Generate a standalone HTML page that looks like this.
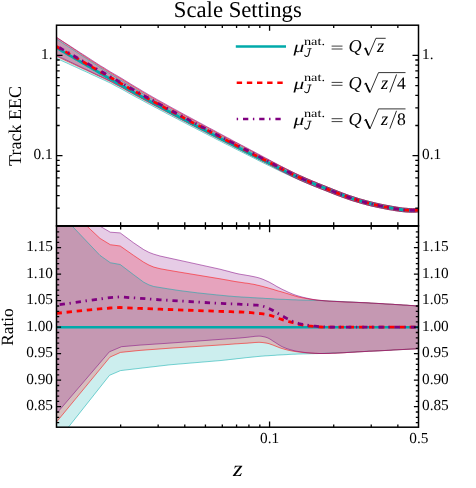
<!DOCTYPE html>
<html><head><meta charset="utf-8"><title>Scale Settings</title>
<style>html,body{margin:0;padding:0;background:#fff;}svg{display:block;font-family:"Liberation Serif",serif;will-change:transform;text-rendering:geometricPrecision;}text{fill:#000;}</style></head><body>
<svg width="476" height="488" viewBox="0 0 476 488">
<rect width="476" height="488" fill="#fff"/>
<defs>
<clipPath id="cu"><rect x="56.5" y="25.2" width="362.0" height="200.7"/></clipPath>
<clipPath id="cl"><rect x="56.5" y="225.9" width="362.0" height="201.3"/></clipPath>
</defs>
<g clip-path="url(#cu)">
<path d="M56.5 39.0 L58.5 40.3 L60.5 41.6 L62.5 43.0 L64.5 44.3 L66.6 45.6 L68.6 46.9 L70.6 48.2 L72.6 49.5 L74.6 50.8 L76.6 52.2 L78.6 53.5 L80.6 54.8 L82.6 56.1 L84.7 57.4 L86.7 58.7 L88.7 60.1 L90.7 61.4 L92.7 62.7 L94.7 64.0 L96.7 65.3 L98.7 66.6 L100.7 67.9 L102.8 69.2 L104.8 70.5 L106.8 71.7 L108.8 73.0 L110.8 74.2 L112.8 75.4 L114.8 76.6 L116.8 77.8 L118.8 79.0 L120.9 80.2 L122.9 81.4 L124.9 82.7 L126.9 83.9 L128.9 85.1 L130.9 86.4 L132.9 87.6 L134.9 88.9 L136.9 90.1 L139.0 91.3 L141.0 92.5 L143.0 93.8 L145.0 94.9 L147.0 96.1 L149.0 97.3 L151.0 98.4 L153.0 99.6 L155.0 100.7 L157.1 101.8 L159.1 102.9 L161.1 104.0 L163.1 105.2 L165.1 106.3 L167.1 107.4 L169.1 108.5 L171.1 109.6 L173.1 110.7 L175.2 111.8 L177.2 112.9 L179.2 114.0 L181.2 115.0 L183.2 116.1 L185.2 117.2 L187.2 118.3 L189.2 119.4 L191.2 120.4 L193.3 121.5 L195.3 122.6 L197.3 123.6 L199.3 124.7 L201.3 125.8 L203.3 126.8 L205.3 127.9 L207.3 129.0 L209.3 130.0 L211.4 131.1 L213.4 132.1 L215.4 133.2 L217.4 134.3 L219.4 135.3 L221.4 136.4 L223.4 137.4 L225.4 138.5 L227.4 139.5 L229.5 140.6 L231.5 141.6 L233.5 142.7 L235.5 143.7 L237.5 144.8 L239.5 145.8 L241.5 146.9 L243.5 147.9 L245.5 149.0 L247.6 150.0 L249.6 151.1 L251.6 152.1 L253.6 153.1 L255.6 154.2 L257.6 155.2 L259.6 156.3 L261.6 157.3 L263.6 158.3 L265.7 159.3 L267.7 160.4 L269.7 161.4 L271.7 162.4 L273.7 163.3 L275.7 164.3 L277.7 165.3 L279.7 166.3 L281.7 167.3 L283.8 168.3 L285.8 169.2 L287.8 170.2 L289.8 171.2 L291.8 172.1 L293.8 173.0 L295.8 174.0 L297.8 174.9 L299.8 175.8 L301.9 176.6 L303.9 177.5 L305.9 178.3 L307.9 179.2 L309.9 180.0 L311.9 180.9 L313.9 181.7 L315.9 182.5 L317.9 183.3 L320.0 184.1 L322.0 184.9 L324.0 185.7 L326.0 186.5 L328.0 187.3 L330.0 188.1 L332.0 188.9 L334.0 189.7 L336.0 190.5 L338.1 191.3 L340.1 192.1 L342.1 192.9 L344.1 193.6 L346.1 194.3 L348.1 195.1 L350.1 195.8 L352.1 196.4 L354.1 197.1 L356.2 197.7 L358.2 198.4 L360.2 199.0 L362.2 199.5 L364.2 200.1 L366.2 200.7 L368.2 201.2 L370.2 201.7 L372.2 202.2 L374.3 202.7 L376.3 203.2 L378.3 203.6 L380.3 204.1 L382.3 204.5 L384.3 204.9 L386.3 205.3 L388.3 205.6 L390.3 206.0 L392.4 206.4 L394.4 206.7 L396.4 207.1 L398.4 207.4 L400.4 207.7 L402.4 208.0 L404.4 208.2 L406.4 208.3 L408.4 208.5 L410.5 208.6 L412.5 208.7 L414.5 208.6 L416.5 208.5 L418.5 208.4 L418.5 211.9 L416.5 212.1 L414.5 212.2 L412.5 212.2 L410.5 212.2 L408.4 212.1 L406.4 212.0 L404.4 211.8 L402.4 211.6 L400.4 211.4 L398.4 211.1 L396.4 210.8 L394.4 210.5 L392.4 210.1 L390.3 209.8 L388.3 209.5 L386.3 209.1 L384.3 208.7 L382.3 208.3 L380.3 207.9 L378.3 207.5 L376.3 207.1 L374.3 206.6 L372.2 206.2 L370.2 205.7 L368.2 205.2 L366.2 204.7 L364.2 204.1 L362.2 203.6 L360.2 203.0 L358.2 202.4 L356.2 201.8 L354.1 201.2 L352.1 200.5 L350.1 199.9 L348.1 199.2 L346.1 198.5 L344.1 197.8 L342.1 197.1 L340.1 196.3 L338.1 195.6 L336.0 194.8 L334.0 194.0 L332.0 193.2 L330.0 192.4 L328.0 191.6 L326.0 190.8 L324.0 190.0 L322.0 189.2 L320.0 188.5 L317.9 187.7 L315.9 186.9 L313.9 186.1 L311.9 185.2 L309.9 184.4 L307.9 183.6 L305.9 182.8 L303.9 181.9 L301.9 181.1 L299.8 180.2 L297.8 179.3 L295.8 178.4 L293.8 177.5 L291.8 176.6 L289.8 175.7 L287.8 174.7 L285.8 173.8 L283.8 172.8 L281.7 171.9 L279.7 170.9 L277.7 169.9 L275.7 169.0 L273.7 168.0 L271.7 167.0 L269.7 166.0 L267.7 165.1 L265.7 164.1 L263.6 163.1 L261.6 162.1 L259.6 161.1 L257.6 160.1 L255.6 159.0 L253.6 158.0 L251.6 157.0 L249.6 156.0 L247.6 155.0 L245.5 153.9 L243.5 152.9 L241.5 151.9 L239.5 150.9 L237.5 149.9 L235.5 148.9 L233.5 147.9 L231.5 146.8 L229.5 145.8 L227.4 144.8 L225.4 143.8 L223.4 142.8 L221.4 141.7 L219.4 140.7 L217.4 139.7 L215.4 138.7 L213.4 137.6 L211.4 136.6 L209.3 135.6 L207.3 134.5 L205.3 133.5 L203.3 132.5 L201.3 131.4 L199.3 130.4 L197.3 129.4 L195.3 128.3 L193.3 127.3 L191.2 126.3 L189.2 125.2 L187.2 124.2 L185.2 123.1 L183.2 122.1 L181.2 121.1 L179.2 120.0 L177.2 118.9 L175.2 117.9 L173.1 116.8 L171.1 115.8 L169.1 114.7 L167.1 113.7 L165.1 112.6 L163.1 111.5 L161.1 110.5 L159.1 109.4 L157.1 108.3 L155.0 107.3 L153.0 106.2 L151.0 105.1 L149.0 104.1 L147.0 103.0 L145.0 101.9 L143.0 100.8 L141.0 99.7 L139.0 98.6 L136.9 97.6 L134.9 96.5 L132.9 95.4 L130.9 94.3 L128.9 93.2 L126.9 92.0 L124.9 90.9 L122.9 89.8 L120.9 88.7 L118.8 87.6 L116.8 86.6 L114.8 85.5 L112.8 84.4 L110.8 83.3 L108.8 82.3 L106.8 81.4 L104.8 80.4 L102.8 79.5 L100.7 78.6 L98.7 77.7 L96.7 76.7 L94.7 75.8 L92.7 74.9 L90.7 74.0 L88.7 73.0 L86.7 72.1 L84.7 71.2 L82.6 70.3 L80.6 69.4 L78.6 68.4 L76.6 67.5 L74.6 66.6 L72.6 65.7 L70.6 64.8 L68.6 63.8 L66.6 62.9 L64.5 62.0 L62.5 61.1 L60.5 60.2 L58.5 59.3 L56.5 58.4Z" fill="#00aaaa" fill-opacity="0.2"/>
<path d="M56.5 37.4 L58.5 38.8 L60.5 40.1 L62.5 41.5 L64.5 42.8 L66.6 44.2 L68.6 45.5 L70.6 46.9 L72.6 48.2 L74.6 49.6 L76.6 50.9 L78.6 52.3 L80.6 53.6 L82.6 55.0 L84.7 56.3 L86.7 57.7 L88.7 59.0 L90.7 60.3 L92.7 61.6 L94.7 62.8 L96.7 64.1 L98.7 65.4 L100.7 66.7 L102.8 68.0 L104.8 69.2 L106.8 70.5 L108.8 71.7 L110.8 72.9 L112.8 74.1 L114.8 75.3 L116.8 76.5 L118.8 77.6 L120.9 78.8 L122.9 80.0 L124.9 81.3 L126.9 82.5 L128.9 83.7 L130.9 85.0 L132.9 86.2 L134.9 87.4 L136.9 88.6 L139.0 89.9 L141.0 91.1 L143.0 92.3 L145.0 93.5 L147.0 94.6 L149.0 95.8 L151.0 97.0 L153.0 98.1 L155.0 99.3 L157.1 100.4 L159.1 101.5 L161.1 102.6 L163.1 103.7 L165.1 104.9 L167.1 106.0 L169.1 107.1 L171.1 108.2 L173.1 109.3 L175.2 110.4 L177.2 111.5 L179.2 112.6 L181.2 113.6 L183.2 114.7 L185.2 115.8 L187.2 116.9 L189.2 118.0 L191.2 119.1 L193.3 120.1 L195.3 121.2 L197.3 122.3 L199.3 123.4 L201.3 124.4 L203.3 125.5 L205.3 126.6 L207.3 127.6 L209.3 128.7 L211.4 129.8 L213.4 130.9 L215.4 131.9 L217.4 133.0 L219.4 134.1 L221.4 135.1 L223.4 136.2 L225.4 137.3 L227.4 138.3 L229.5 139.4 L231.5 140.5 L233.5 141.5 L235.5 142.6 L237.5 143.6 L239.5 144.7 L241.5 145.8 L243.5 146.8 L245.5 147.9 L247.6 148.9 L249.6 150.0 L251.6 151.1 L253.6 152.1 L255.6 153.2 L257.6 154.3 L259.6 155.3 L261.6 156.4 L263.6 157.4 L265.7 158.5 L267.7 159.5 L269.7 160.6 L271.7 161.6 L273.7 162.6 L275.7 163.7 L277.7 164.7 L279.7 165.7 L281.7 166.7 L283.8 167.7 L285.8 168.8 L287.8 169.8 L289.8 170.7 L291.8 171.7 L293.8 172.7 L295.8 173.7 L297.8 174.6 L299.8 175.5 L301.9 176.4 L303.9 177.3 L305.9 178.2 L307.9 179.1 L309.9 179.9 L311.9 180.8 L313.9 181.6 L315.9 182.4 L317.9 183.3 L320.0 184.1 L322.0 184.9 L324.0 185.7 L326.0 186.5 L328.0 187.3 L330.0 188.1 L332.0 188.9 L334.0 189.7 L336.0 190.5 L338.1 191.3 L340.1 192.1 L342.1 192.9 L344.1 193.6 L346.1 194.4 L348.1 195.1 L350.1 195.8 L352.1 196.4 L354.1 197.1 L356.2 197.7 L358.2 198.4 L360.2 199.0 L362.2 199.6 L364.2 200.1 L366.2 200.7 L368.2 201.2 L370.2 201.7 L372.2 202.2 L374.3 202.7 L376.3 203.2 L378.3 203.6 L380.3 204.1 L382.3 204.5 L384.3 204.9 L386.3 205.3 L388.3 205.6 L390.3 206.0 L392.4 206.4 L394.4 206.7 L396.4 207.1 L398.4 207.4 L400.4 207.7 L402.4 208.0 L404.4 208.2 L406.4 208.3 L408.4 208.5 L410.5 208.6 L412.5 208.7 L414.5 208.6 L416.5 208.5 L418.5 208.4 L418.5 211.9 L416.5 212.1 L414.5 212.2 L412.5 212.2 L410.5 212.2 L408.4 212.1 L406.4 212.0 L404.4 211.8 L402.4 211.6 L400.4 211.4 L398.4 211.1 L396.4 210.8 L394.4 210.5 L392.4 210.1 L390.3 209.8 L388.3 209.5 L386.3 209.1 L384.3 208.7 L382.3 208.3 L380.3 207.9 L378.3 207.5 L376.3 207.1 L374.3 206.6 L372.2 206.2 L370.2 205.7 L368.2 205.2 L366.2 204.7 L364.2 204.1 L362.2 203.6 L360.2 203.0 L358.2 202.4 L356.2 201.8 L354.1 201.2 L352.1 200.6 L350.1 199.9 L348.1 199.2 L346.1 198.5 L344.1 197.8 L342.1 197.1 L340.1 196.3 L338.1 195.6 L336.0 194.8 L334.0 194.0 L332.0 193.2 L330.0 192.4 L328.0 191.6 L326.0 190.8 L324.0 190.0 L322.0 189.2 L320.0 188.5 L317.9 187.6 L315.9 186.8 L313.9 186.0 L311.9 185.2 L309.9 184.4 L307.9 183.5 L305.9 182.7 L303.9 181.8 L301.9 180.9 L299.8 180.0 L297.8 179.1 L295.8 178.2 L293.8 177.3 L291.8 176.3 L289.8 175.3 L287.8 174.3 L285.8 173.3 L283.8 172.3 L281.7 171.3 L279.7 170.3 L277.7 169.2 L275.7 168.2 L273.7 167.1 L271.7 166.1 L269.7 165.0 L267.7 164.0 L265.7 163.0 L263.6 161.9 L261.6 160.9 L259.6 159.9 L257.6 158.8 L255.6 157.8 L253.6 156.8 L251.6 155.8 L249.6 154.8 L247.6 153.7 L245.5 152.7 L243.5 151.7 L241.5 150.6 L239.5 149.6 L237.5 148.6 L235.5 147.6 L233.5 146.6 L231.5 145.5 L229.5 144.5 L227.4 143.5 L225.4 142.5 L223.4 141.4 L221.4 140.4 L219.4 139.4 L217.4 138.3 L215.4 137.3 L213.4 136.3 L211.4 135.2 L209.3 134.2 L207.3 133.2 L205.3 132.1 L203.3 131.1 L201.3 130.1 L199.3 129.0 L197.3 128.0 L195.3 126.9 L193.3 125.9 L191.2 124.9 L189.2 123.8 L187.2 122.8 L185.2 121.7 L183.2 120.7 L181.2 119.6 L179.2 118.6 L177.2 117.5 L175.2 116.5 L173.1 115.4 L171.1 114.3 L169.1 113.3 L167.1 112.2 L165.1 111.1 L163.1 110.1 L161.1 109.0 L159.1 107.9 L157.1 106.9 L155.0 105.8 L153.0 104.7 L151.0 103.6 L149.0 102.5 L147.0 101.5 L145.0 100.4 L143.0 99.3 L141.0 98.2 L139.0 97.1 L136.9 96.0 L134.9 94.9 L132.9 93.8 L130.9 92.7 L128.9 91.6 L126.9 90.5 L124.9 89.3 L122.9 88.2 L120.9 87.1 L118.8 86.0 L116.8 85.0 L114.8 83.9 L112.8 82.8 L110.8 81.7 L108.8 80.7 L106.8 79.8 L104.8 78.8 L102.8 77.9 L100.7 76.9 L98.7 76.0 L96.7 75.1 L94.7 74.1 L92.7 73.2 L90.7 72.2 L88.7 71.3 L86.7 70.3 L84.7 69.4 L82.6 68.5 L80.6 67.5 L78.6 66.6 L76.6 65.7 L74.6 64.7 L72.6 63.8 L70.6 62.8 L68.6 61.9 L66.6 61.0 L64.5 60.0 L62.5 59.1 L60.5 58.2 L58.5 57.2 L56.5 56.3Z" fill="#ff0000" fill-opacity="0.2"/>
<path d="M56.5 37.3 L58.5 38.6 L60.5 39.9 L62.5 41.2 L64.5 42.5 L66.6 43.8 L68.6 45.1 L70.6 46.4 L72.6 47.7 L74.6 49.0 L76.6 50.3 L78.6 51.6 L80.6 52.9 L82.6 54.2 L84.7 55.5 L86.7 56.8 L88.7 58.1 L90.7 59.4 L92.7 60.7 L94.7 62.0 L96.7 63.3 L98.7 64.6 L100.7 65.9 L102.8 67.1 L104.8 68.3 L106.8 69.6 L108.8 70.8 L110.8 72.1 L112.8 73.2 L114.8 74.4 L116.8 75.5 L118.8 76.7 L120.9 77.9 L122.9 79.1 L124.9 80.4 L126.9 81.6 L128.9 82.8 L130.9 84.1 L132.9 85.3 L134.9 86.5 L136.9 87.7 L139.0 88.9 L141.0 90.1 L143.0 91.4 L145.0 92.5 L147.0 93.7 L149.0 94.9 L151.0 96.0 L153.0 97.2 L155.0 98.3 L157.1 99.5 L159.1 100.6 L161.1 101.7 L163.1 102.8 L165.1 103.9 L167.1 105.1 L169.1 106.2 L171.1 107.3 L173.1 108.4 L175.2 109.5 L177.2 110.6 L179.2 111.7 L181.2 112.8 L183.2 113.9 L185.2 115.0 L187.2 116.1 L189.2 117.1 L191.2 118.2 L193.3 119.3 L195.3 120.4 L197.3 121.5 L199.3 122.6 L201.3 123.6 L203.3 124.7 L205.3 125.8 L207.3 126.9 L209.3 128.0 L211.4 129.0 L213.4 130.1 L215.4 131.2 L217.4 132.3 L219.4 133.3 L221.4 134.4 L223.4 135.5 L225.4 136.6 L227.4 137.7 L229.5 138.7 L231.5 139.8 L233.5 140.9 L235.5 142.0 L237.5 143.0 L239.5 144.1 L241.5 145.2 L243.5 146.2 L245.5 147.3 L247.6 148.3 L249.6 149.4 L251.6 150.5 L253.6 151.5 L255.6 152.6 L257.6 153.7 L259.6 154.7 L261.6 155.8 L263.6 156.9 L265.7 158.0 L267.7 159.0 L269.7 160.1 L271.7 161.2 L273.7 162.3 L275.7 163.3 L277.7 164.4 L279.7 165.5 L281.7 166.5 L283.8 167.6 L285.8 168.6 L287.8 169.6 L289.8 170.6 L291.8 171.6 L293.8 172.6 L295.8 173.6 L297.8 174.5 L299.8 175.5 L301.9 176.4 L303.9 177.3 L305.9 178.2 L307.9 179.1 L309.9 179.9 L311.9 180.8 L313.9 181.6 L315.9 182.4 L317.9 183.3 L320.0 184.1 L322.0 184.9 L324.0 185.7 L326.0 186.5 L328.0 187.3 L330.0 188.1 L332.0 188.9 L334.0 189.7 L336.0 190.5 L338.1 191.3 L340.1 192.1 L342.1 192.9 L344.1 193.6 L346.1 194.4 L348.1 195.1 L350.1 195.8 L352.1 196.4 L354.1 197.1 L356.2 197.7 L358.2 198.4 L360.2 199.0 L362.2 199.6 L364.2 200.1 L366.2 200.7 L368.2 201.2 L370.2 201.7 L372.2 202.2 L374.3 202.7 L376.3 203.2 L378.3 203.6 L380.3 204.1 L382.3 204.5 L384.3 204.9 L386.3 205.3 L388.3 205.6 L390.3 206.0 L392.4 206.4 L394.4 206.7 L396.4 207.1 L398.4 207.4 L400.4 207.7 L402.4 208.0 L404.4 208.2 L406.4 208.3 L408.4 208.5 L410.5 208.6 L412.5 208.7 L414.5 208.6 L416.5 208.5 L418.5 208.4 L418.5 211.9 L416.5 212.1 L414.5 212.2 L412.5 212.2 L410.5 212.2 L408.4 212.1 L406.4 212.0 L404.4 211.8 L402.4 211.6 L400.4 211.4 L398.4 211.1 L396.4 210.8 L394.4 210.5 L392.4 210.1 L390.3 209.8 L388.3 209.5 L386.3 209.1 L384.3 208.7 L382.3 208.3 L380.3 207.9 L378.3 207.5 L376.3 207.1 L374.3 206.6 L372.2 206.2 L370.2 205.7 L368.2 205.2 L366.2 204.7 L364.2 204.1 L362.2 203.6 L360.2 203.0 L358.2 202.4 L356.2 201.8 L354.1 201.2 L352.1 200.6 L350.1 199.9 L348.1 199.2 L346.1 198.5 L344.1 197.8 L342.1 197.1 L340.1 196.3 L338.1 195.6 L336.0 194.8 L334.0 194.0 L332.0 193.2 L330.0 192.4 L328.0 191.6 L326.0 190.8 L324.0 190.0 L322.0 189.2 L320.0 188.5 L317.9 187.6 L315.9 186.8 L313.9 186.0 L311.9 185.2 L309.9 184.4 L307.9 183.5 L305.9 182.7 L303.9 181.8 L301.9 180.9 L299.8 180.0 L297.8 179.1 L295.8 178.1 L293.8 177.2 L291.8 176.2 L289.8 175.2 L287.8 174.2 L285.8 173.2 L283.8 172.2 L281.7 171.1 L279.7 170.1 L277.7 169.0 L275.7 167.9 L273.7 166.8 L271.7 165.7 L269.7 164.6 L267.7 163.5 L265.7 162.5 L263.6 161.4 L261.6 160.4 L259.6 159.3 L257.6 158.3 L255.6 157.3 L253.6 156.3 L251.6 155.3 L249.6 154.2 L247.6 153.2 L245.5 152.2 L243.5 151.2 L241.5 150.2 L239.5 149.1 L237.5 148.1 L235.5 147.1 L233.5 146.1 L231.5 145.1 L229.5 144.0 L227.4 143.0 L225.4 142.0 L223.4 141.0 L221.4 139.9 L219.4 138.9 L217.4 137.9 L215.4 136.8 L213.4 135.8 L211.4 134.8 L209.3 133.7 L207.3 132.7 L205.3 131.7 L203.3 130.6 L201.3 129.6 L199.3 128.6 L197.3 127.5 L195.3 126.5 L193.3 125.5 L191.2 124.4 L189.2 123.4 L187.2 122.3 L185.2 121.3 L183.2 120.2 L181.2 119.2 L179.2 118.1 L177.2 117.1 L175.2 116.0 L173.1 115.0 L171.1 113.9 L169.1 112.8 L167.1 111.8 L165.1 110.7 L163.1 109.6 L161.1 108.6 L159.1 107.5 L157.1 106.4 L155.0 105.3 L153.0 104.3 L151.0 103.2 L149.0 102.1 L147.0 101.0 L145.0 99.9 L143.0 98.8 L141.0 97.7 L139.0 96.6 L136.9 95.5 L134.9 94.4 L132.9 93.3 L130.9 92.2 L128.9 91.1 L126.9 90.0 L124.9 88.9 L122.9 87.7 L120.9 86.6 L118.8 85.6 L116.8 84.5 L114.8 83.4 L112.8 82.3 L110.8 81.3 L108.8 80.2 L106.8 79.3 L104.8 78.3 L102.8 77.3 L100.7 76.4 L98.7 75.4 L96.7 74.5 L94.7 73.5 L92.7 72.6 L90.7 71.6 L88.7 70.7 L86.7 69.7 L84.7 68.8 L82.6 67.8 L80.6 66.8 L78.6 65.9 L76.6 64.9 L74.6 64.0 L72.6 63.0 L70.6 62.1 L68.6 61.1 L66.6 60.2 L64.5 59.2 L62.5 58.3 L60.5 57.3 L58.5 56.4 L56.5 55.5Z" fill="#800080" fill-opacity="0.2"/>
<path d="M56.5 39.0 L58.5 40.3 L60.5 41.6 L62.5 43.0 L64.5 44.3 L66.6 45.6 L68.6 46.9 L70.6 48.2 L72.6 49.5 L74.6 50.8 L76.6 52.2 L78.6 53.5 L80.6 54.8 L82.6 56.1 L84.7 57.4 L86.7 58.7 L88.7 60.1 L90.7 61.4 L92.7 62.7 L94.7 64.0 L96.7 65.3 L98.7 66.6 L100.7 67.9 L102.8 69.2 L104.8 70.5 L106.8 71.7 L108.8 73.0 L110.8 74.2 L112.8 75.4 L114.8 76.6 L116.8 77.8 L118.8 79.0 L120.9 80.2 L122.9 81.4 L124.9 82.7 L126.9 83.9 L128.9 85.1 L130.9 86.4 L132.9 87.6 L134.9 88.9 L136.9 90.1 L139.0 91.3 L141.0 92.5 L143.0 93.8 L145.0 94.9 L147.0 96.1 L149.0 97.3 L151.0 98.4 L153.0 99.6 L155.0 100.7 L157.1 101.8 L159.1 102.9 L161.1 104.0 L163.1 105.2 L165.1 106.3 L167.1 107.4 L169.1 108.5 L171.1 109.6 L173.1 110.7 L175.2 111.8 L177.2 112.9 L179.2 114.0 L181.2 115.0 L183.2 116.1 L185.2 117.2 L187.2 118.3 L189.2 119.4 L191.2 120.4 L193.3 121.5 L195.3 122.6 L197.3 123.6 L199.3 124.7 L201.3 125.8 L203.3 126.8 L205.3 127.9 L207.3 129.0 L209.3 130.0 L211.4 131.1 L213.4 132.1 L215.4 133.2 L217.4 134.3 L219.4 135.3 L221.4 136.4 L223.4 137.4 L225.4 138.5 L227.4 139.5 L229.5 140.6 L231.5 141.6 L233.5 142.7 L235.5 143.7 L237.5 144.8 L239.5 145.8 L241.5 146.9 L243.5 147.9 L245.5 149.0 L247.6 150.0 L249.6 151.1 L251.6 152.1 L253.6 153.1 L255.6 154.2 L257.6 155.2 L259.6 156.3 L261.6 157.3 L263.6 158.3 L265.7 159.3 L267.7 160.4 L269.7 161.4 L271.7 162.4 L273.7 163.3 L275.7 164.3 L277.7 165.3 L279.7 166.3 L281.7 167.3 L283.8 168.3 L285.8 169.2 L287.8 170.2 L289.8 171.2 L291.8 172.1 L293.8 173.0 L295.8 174.0 L297.8 174.9 L299.8 175.8 L301.9 176.6 L303.9 177.5 L305.9 178.3 L307.9 179.2 L309.9 180.0 L311.9 180.9 L313.9 181.7 L315.9 182.5 L317.9 183.3 L320.0 184.1 L322.0 184.9 L324.0 185.7 L326.0 186.5 L328.0 187.3 L330.0 188.1 L332.0 188.9 L334.0 189.7 L336.0 190.5 L338.1 191.3 L340.1 192.1 L342.1 192.9 L344.1 193.6 L346.1 194.3 L348.1 195.1 L350.1 195.8 L352.1 196.4 L354.1 197.1 L356.2 197.7 L358.2 198.4 L360.2 199.0 L362.2 199.5 L364.2 200.1 L366.2 200.7 L368.2 201.2 L370.2 201.7 L372.2 202.2 L374.3 202.7 L376.3 203.2 L378.3 203.6 L380.3 204.1 L382.3 204.5 L384.3 204.9 L386.3 205.3 L388.3 205.6 L390.3 206.0 L392.4 206.4 L394.4 206.7 L396.4 207.1 L398.4 207.4 L400.4 207.7 L402.4 208.0 L404.4 208.2 L406.4 208.3 L408.4 208.5 L410.5 208.6 L412.5 208.7 L414.5 208.6 L416.5 208.5 L418.5 208.4" fill="none" stroke="#00aaaa" stroke-width="0.7" stroke-opacity="0.75"/>
<path d="M56.5 58.4 L58.5 59.3 L60.5 60.2 L62.5 61.1 L64.5 62.0 L66.6 62.9 L68.6 63.8 L70.6 64.8 L72.6 65.7 L74.6 66.6 L76.6 67.5 L78.6 68.4 L80.6 69.4 L82.6 70.3 L84.7 71.2 L86.7 72.1 L88.7 73.0 L90.7 74.0 L92.7 74.9 L94.7 75.8 L96.7 76.7 L98.7 77.7 L100.7 78.6 L102.8 79.5 L104.8 80.4 L106.8 81.4 L108.8 82.3 L110.8 83.3 L112.8 84.4 L114.8 85.5 L116.8 86.6 L118.8 87.6 L120.9 88.7 L122.9 89.8 L124.9 90.9 L126.9 92.0 L128.9 93.2 L130.9 94.3 L132.9 95.4 L134.9 96.5 L136.9 97.6 L139.0 98.6 L141.0 99.7 L143.0 100.8 L145.0 101.9 L147.0 103.0 L149.0 104.1 L151.0 105.1 L153.0 106.2 L155.0 107.3 L157.1 108.3 L159.1 109.4 L161.1 110.5 L163.1 111.5 L165.1 112.6 L167.1 113.7 L169.1 114.7 L171.1 115.8 L173.1 116.8 L175.2 117.9 L177.2 118.9 L179.2 120.0 L181.2 121.1 L183.2 122.1 L185.2 123.1 L187.2 124.2 L189.2 125.2 L191.2 126.3 L193.3 127.3 L195.3 128.3 L197.3 129.4 L199.3 130.4 L201.3 131.4 L203.3 132.5 L205.3 133.5 L207.3 134.5 L209.3 135.6 L211.4 136.6 L213.4 137.6 L215.4 138.7 L217.4 139.7 L219.4 140.7 L221.4 141.7 L223.4 142.8 L225.4 143.8 L227.4 144.8 L229.5 145.8 L231.5 146.8 L233.5 147.9 L235.5 148.9 L237.5 149.9 L239.5 150.9 L241.5 151.9 L243.5 152.9 L245.5 153.9 L247.6 155.0 L249.6 156.0 L251.6 157.0 L253.6 158.0 L255.6 159.0 L257.6 160.1 L259.6 161.1 L261.6 162.1 L263.6 163.1 L265.7 164.1 L267.7 165.1 L269.7 166.0 L271.7 167.0 L273.7 168.0 L275.7 169.0 L277.7 169.9 L279.7 170.9 L281.7 171.9 L283.8 172.8 L285.8 173.8 L287.8 174.7 L289.8 175.7 L291.8 176.6 L293.8 177.5 L295.8 178.4 L297.8 179.3 L299.8 180.2 L301.9 181.1 L303.9 181.9 L305.9 182.8 L307.9 183.6 L309.9 184.4 L311.9 185.2 L313.9 186.1 L315.9 186.9 L317.9 187.7 L320.0 188.5 L322.0 189.2 L324.0 190.0 L326.0 190.8 L328.0 191.6 L330.0 192.4 L332.0 193.2 L334.0 194.0 L336.0 194.8 L338.1 195.6 L340.1 196.3 L342.1 197.1 L344.1 197.8 L346.1 198.5 L348.1 199.2 L350.1 199.9 L352.1 200.5 L354.1 201.2 L356.2 201.8 L358.2 202.4 L360.2 203.0 L362.2 203.6 L364.2 204.1 L366.2 204.7 L368.2 205.2 L370.2 205.7 L372.2 206.2 L374.3 206.6 L376.3 207.1 L378.3 207.5 L380.3 207.9 L382.3 208.3 L384.3 208.7 L386.3 209.1 L388.3 209.5 L390.3 209.8 L392.4 210.1 L394.4 210.5 L396.4 210.8 L398.4 211.1 L400.4 211.4 L402.4 211.6 L404.4 211.8 L406.4 212.0 L408.4 212.1 L410.5 212.2 L412.5 212.2 L414.5 212.2 L416.5 212.1 L418.5 211.9" fill="none" stroke="#00aaaa" stroke-width="0.7" stroke-opacity="0.75"/>
<path d="M56.5 37.4 L58.5 38.8 L60.5 40.1 L62.5 41.5 L64.5 42.8 L66.6 44.2 L68.6 45.5 L70.6 46.9 L72.6 48.2 L74.6 49.6 L76.6 50.9 L78.6 52.3 L80.6 53.6 L82.6 55.0 L84.7 56.3 L86.7 57.7 L88.7 59.0 L90.7 60.3 L92.7 61.6 L94.7 62.8 L96.7 64.1 L98.7 65.4 L100.7 66.7 L102.8 68.0 L104.8 69.2 L106.8 70.5 L108.8 71.7 L110.8 72.9 L112.8 74.1 L114.8 75.3 L116.8 76.5 L118.8 77.6 L120.9 78.8 L122.9 80.0 L124.9 81.3 L126.9 82.5 L128.9 83.7 L130.9 85.0 L132.9 86.2 L134.9 87.4 L136.9 88.6 L139.0 89.9 L141.0 91.1 L143.0 92.3 L145.0 93.5 L147.0 94.6 L149.0 95.8 L151.0 97.0 L153.0 98.1 L155.0 99.3 L157.1 100.4 L159.1 101.5 L161.1 102.6 L163.1 103.7 L165.1 104.9 L167.1 106.0 L169.1 107.1 L171.1 108.2 L173.1 109.3 L175.2 110.4 L177.2 111.5 L179.2 112.6 L181.2 113.6 L183.2 114.7 L185.2 115.8 L187.2 116.9 L189.2 118.0 L191.2 119.1 L193.3 120.1 L195.3 121.2 L197.3 122.3 L199.3 123.4 L201.3 124.4 L203.3 125.5 L205.3 126.6 L207.3 127.6 L209.3 128.7 L211.4 129.8 L213.4 130.9 L215.4 131.9 L217.4 133.0 L219.4 134.1 L221.4 135.1 L223.4 136.2 L225.4 137.3 L227.4 138.3 L229.5 139.4 L231.5 140.5 L233.5 141.5 L235.5 142.6 L237.5 143.6 L239.5 144.7 L241.5 145.8 L243.5 146.8 L245.5 147.9 L247.6 148.9 L249.6 150.0 L251.6 151.1 L253.6 152.1 L255.6 153.2 L257.6 154.3 L259.6 155.3 L261.6 156.4 L263.6 157.4 L265.7 158.5 L267.7 159.5 L269.7 160.6 L271.7 161.6 L273.7 162.6 L275.7 163.7 L277.7 164.7 L279.7 165.7 L281.7 166.7 L283.8 167.7 L285.8 168.8 L287.8 169.8 L289.8 170.7 L291.8 171.7 L293.8 172.7 L295.8 173.7 L297.8 174.6 L299.8 175.5 L301.9 176.4 L303.9 177.3 L305.9 178.2 L307.9 179.1 L309.9 179.9 L311.9 180.8 L313.9 181.6 L315.9 182.4 L317.9 183.3 L320.0 184.1 L322.0 184.9 L324.0 185.7 L326.0 186.5 L328.0 187.3 L330.0 188.1 L332.0 188.9 L334.0 189.7 L336.0 190.5 L338.1 191.3 L340.1 192.1 L342.1 192.9 L344.1 193.6 L346.1 194.4 L348.1 195.1 L350.1 195.8 L352.1 196.4 L354.1 197.1 L356.2 197.7 L358.2 198.4 L360.2 199.0 L362.2 199.6 L364.2 200.1 L366.2 200.7 L368.2 201.2 L370.2 201.7 L372.2 202.2 L374.3 202.7 L376.3 203.2 L378.3 203.6 L380.3 204.1 L382.3 204.5 L384.3 204.9 L386.3 205.3 L388.3 205.6 L390.3 206.0 L392.4 206.4 L394.4 206.7 L396.4 207.1 L398.4 207.4 L400.4 207.7 L402.4 208.0 L404.4 208.2 L406.4 208.3 L408.4 208.5 L410.5 208.6 L412.5 208.7 L414.5 208.6 L416.5 208.5 L418.5 208.4" fill="none" stroke="#ff0000" stroke-width="0.7" stroke-opacity="0.75"/>
<path d="M56.5 56.3 L58.5 57.2 L60.5 58.2 L62.5 59.1 L64.5 60.0 L66.6 61.0 L68.6 61.9 L70.6 62.8 L72.6 63.8 L74.6 64.7 L76.6 65.7 L78.6 66.6 L80.6 67.5 L82.6 68.5 L84.7 69.4 L86.7 70.3 L88.7 71.3 L90.7 72.2 L92.7 73.2 L94.7 74.1 L96.7 75.1 L98.7 76.0 L100.7 76.9 L102.8 77.9 L104.8 78.8 L106.8 79.8 L108.8 80.7 L110.8 81.7 L112.8 82.8 L114.8 83.9 L116.8 85.0 L118.8 86.0 L120.9 87.1 L122.9 88.2 L124.9 89.3 L126.9 90.5 L128.9 91.6 L130.9 92.7 L132.9 93.8 L134.9 94.9 L136.9 96.0 L139.0 97.1 L141.0 98.2 L143.0 99.3 L145.0 100.4 L147.0 101.5 L149.0 102.5 L151.0 103.6 L153.0 104.7 L155.0 105.8 L157.1 106.9 L159.1 107.9 L161.1 109.0 L163.1 110.1 L165.1 111.1 L167.1 112.2 L169.1 113.3 L171.1 114.3 L173.1 115.4 L175.2 116.5 L177.2 117.5 L179.2 118.6 L181.2 119.6 L183.2 120.7 L185.2 121.7 L187.2 122.8 L189.2 123.8 L191.2 124.9 L193.3 125.9 L195.3 126.9 L197.3 128.0 L199.3 129.0 L201.3 130.1 L203.3 131.1 L205.3 132.1 L207.3 133.2 L209.3 134.2 L211.4 135.2 L213.4 136.3 L215.4 137.3 L217.4 138.3 L219.4 139.4 L221.4 140.4 L223.4 141.4 L225.4 142.5 L227.4 143.5 L229.5 144.5 L231.5 145.5 L233.5 146.6 L235.5 147.6 L237.5 148.6 L239.5 149.6 L241.5 150.6 L243.5 151.7 L245.5 152.7 L247.6 153.7 L249.6 154.8 L251.6 155.8 L253.6 156.8 L255.6 157.8 L257.6 158.8 L259.6 159.9 L261.6 160.9 L263.6 161.9 L265.7 163.0 L267.7 164.0 L269.7 165.0 L271.7 166.1 L273.7 167.1 L275.7 168.2 L277.7 169.2 L279.7 170.3 L281.7 171.3 L283.8 172.3 L285.8 173.3 L287.8 174.3 L289.8 175.3 L291.8 176.3 L293.8 177.3 L295.8 178.2 L297.8 179.1 L299.8 180.0 L301.9 180.9 L303.9 181.8 L305.9 182.7 L307.9 183.5 L309.9 184.4 L311.9 185.2 L313.9 186.0 L315.9 186.8 L317.9 187.6 L320.0 188.5 L322.0 189.2 L324.0 190.0 L326.0 190.8 L328.0 191.6 L330.0 192.4 L332.0 193.2 L334.0 194.0 L336.0 194.8 L338.1 195.6 L340.1 196.3 L342.1 197.1 L344.1 197.8 L346.1 198.5 L348.1 199.2 L350.1 199.9 L352.1 200.6 L354.1 201.2 L356.2 201.8 L358.2 202.4 L360.2 203.0 L362.2 203.6 L364.2 204.1 L366.2 204.7 L368.2 205.2 L370.2 205.7 L372.2 206.2 L374.3 206.6 L376.3 207.1 L378.3 207.5 L380.3 207.9 L382.3 208.3 L384.3 208.7 L386.3 209.1 L388.3 209.5 L390.3 209.8 L392.4 210.1 L394.4 210.5 L396.4 210.8 L398.4 211.1 L400.4 211.4 L402.4 211.6 L404.4 211.8 L406.4 212.0 L408.4 212.1 L410.5 212.2 L412.5 212.2 L414.5 212.2 L416.5 212.1 L418.5 211.9" fill="none" stroke="#ff0000" stroke-width="0.7" stroke-opacity="0.75"/>
<path d="M56.5 37.3 L58.5 38.6 L60.5 39.9 L62.5 41.2 L64.5 42.5 L66.6 43.8 L68.6 45.1 L70.6 46.4 L72.6 47.7 L74.6 49.0 L76.6 50.3 L78.6 51.6 L80.6 52.9 L82.6 54.2 L84.7 55.5 L86.7 56.8 L88.7 58.1 L90.7 59.4 L92.7 60.7 L94.7 62.0 L96.7 63.3 L98.7 64.6 L100.7 65.9 L102.8 67.1 L104.8 68.3 L106.8 69.6 L108.8 70.8 L110.8 72.1 L112.8 73.2 L114.8 74.4 L116.8 75.5 L118.8 76.7 L120.9 77.9 L122.9 79.1 L124.9 80.4 L126.9 81.6 L128.9 82.8 L130.9 84.1 L132.9 85.3 L134.9 86.5 L136.9 87.7 L139.0 88.9 L141.0 90.1 L143.0 91.4 L145.0 92.5 L147.0 93.7 L149.0 94.9 L151.0 96.0 L153.0 97.2 L155.0 98.3 L157.1 99.5 L159.1 100.6 L161.1 101.7 L163.1 102.8 L165.1 103.9 L167.1 105.1 L169.1 106.2 L171.1 107.3 L173.1 108.4 L175.2 109.5 L177.2 110.6 L179.2 111.7 L181.2 112.8 L183.2 113.9 L185.2 115.0 L187.2 116.1 L189.2 117.1 L191.2 118.2 L193.3 119.3 L195.3 120.4 L197.3 121.5 L199.3 122.6 L201.3 123.6 L203.3 124.7 L205.3 125.8 L207.3 126.9 L209.3 128.0 L211.4 129.0 L213.4 130.1 L215.4 131.2 L217.4 132.3 L219.4 133.3 L221.4 134.4 L223.4 135.5 L225.4 136.6 L227.4 137.7 L229.5 138.7 L231.5 139.8 L233.5 140.9 L235.5 142.0 L237.5 143.0 L239.5 144.1 L241.5 145.2 L243.5 146.2 L245.5 147.3 L247.6 148.3 L249.6 149.4 L251.6 150.5 L253.6 151.5 L255.6 152.6 L257.6 153.7 L259.6 154.7 L261.6 155.8 L263.6 156.9 L265.7 158.0 L267.7 159.0 L269.7 160.1 L271.7 161.2 L273.7 162.3 L275.7 163.3 L277.7 164.4 L279.7 165.5 L281.7 166.5 L283.8 167.6 L285.8 168.6 L287.8 169.6 L289.8 170.6 L291.8 171.6 L293.8 172.6 L295.8 173.6 L297.8 174.5 L299.8 175.5 L301.9 176.4 L303.9 177.3 L305.9 178.2 L307.9 179.1 L309.9 179.9 L311.9 180.8 L313.9 181.6 L315.9 182.4 L317.9 183.3 L320.0 184.1 L322.0 184.9 L324.0 185.7 L326.0 186.5 L328.0 187.3 L330.0 188.1 L332.0 188.9 L334.0 189.7 L336.0 190.5 L338.1 191.3 L340.1 192.1 L342.1 192.9 L344.1 193.6 L346.1 194.4 L348.1 195.1 L350.1 195.8 L352.1 196.4 L354.1 197.1 L356.2 197.7 L358.2 198.4 L360.2 199.0 L362.2 199.6 L364.2 200.1 L366.2 200.7 L368.2 201.2 L370.2 201.7 L372.2 202.2 L374.3 202.7 L376.3 203.2 L378.3 203.6 L380.3 204.1 L382.3 204.5 L384.3 204.9 L386.3 205.3 L388.3 205.6 L390.3 206.0 L392.4 206.4 L394.4 206.7 L396.4 207.1 L398.4 207.4 L400.4 207.7 L402.4 208.0 L404.4 208.2 L406.4 208.3 L408.4 208.5 L410.5 208.6 L412.5 208.7 L414.5 208.6 L416.5 208.5 L418.5 208.4" fill="none" stroke="#800080" stroke-width="0.7" stroke-opacity="0.75"/>
<path d="M56.5 55.5 L58.5 56.4 L60.5 57.3 L62.5 58.3 L64.5 59.2 L66.6 60.2 L68.6 61.1 L70.6 62.1 L72.6 63.0 L74.6 64.0 L76.6 64.9 L78.6 65.9 L80.6 66.8 L82.6 67.8 L84.7 68.8 L86.7 69.7 L88.7 70.7 L90.7 71.6 L92.7 72.6 L94.7 73.5 L96.7 74.5 L98.7 75.4 L100.7 76.4 L102.8 77.3 L104.8 78.3 L106.8 79.3 L108.8 80.2 L110.8 81.3 L112.8 82.3 L114.8 83.4 L116.8 84.5 L118.8 85.6 L120.9 86.6 L122.9 87.7 L124.9 88.9 L126.9 90.0 L128.9 91.1 L130.9 92.2 L132.9 93.3 L134.9 94.4 L136.9 95.5 L139.0 96.6 L141.0 97.7 L143.0 98.8 L145.0 99.9 L147.0 101.0 L149.0 102.1 L151.0 103.2 L153.0 104.3 L155.0 105.3 L157.1 106.4 L159.1 107.5 L161.1 108.6 L163.1 109.6 L165.1 110.7 L167.1 111.8 L169.1 112.8 L171.1 113.9 L173.1 115.0 L175.2 116.0 L177.2 117.1 L179.2 118.1 L181.2 119.2 L183.2 120.2 L185.2 121.3 L187.2 122.3 L189.2 123.4 L191.2 124.4 L193.3 125.5 L195.3 126.5 L197.3 127.5 L199.3 128.6 L201.3 129.6 L203.3 130.6 L205.3 131.7 L207.3 132.7 L209.3 133.7 L211.4 134.8 L213.4 135.8 L215.4 136.8 L217.4 137.9 L219.4 138.9 L221.4 139.9 L223.4 141.0 L225.4 142.0 L227.4 143.0 L229.5 144.0 L231.5 145.1 L233.5 146.1 L235.5 147.1 L237.5 148.1 L239.5 149.1 L241.5 150.2 L243.5 151.2 L245.5 152.2 L247.6 153.2 L249.6 154.2 L251.6 155.3 L253.6 156.3 L255.6 157.3 L257.6 158.3 L259.6 159.3 L261.6 160.4 L263.6 161.4 L265.7 162.5 L267.7 163.5 L269.7 164.6 L271.7 165.7 L273.7 166.8 L275.7 167.9 L277.7 169.0 L279.7 170.1 L281.7 171.1 L283.8 172.2 L285.8 173.2 L287.8 174.2 L289.8 175.2 L291.8 176.2 L293.8 177.2 L295.8 178.1 L297.8 179.1 L299.8 180.0 L301.9 180.9 L303.9 181.8 L305.9 182.7 L307.9 183.5 L309.9 184.4 L311.9 185.2 L313.9 186.0 L315.9 186.8 L317.9 187.6 L320.0 188.5 L322.0 189.2 L324.0 190.0 L326.0 190.8 L328.0 191.6 L330.0 192.4 L332.0 193.2 L334.0 194.0 L336.0 194.8 L338.1 195.6 L340.1 196.3 L342.1 197.1 L344.1 197.8 L346.1 198.5 L348.1 199.2 L350.1 199.9 L352.1 200.6 L354.1 201.2 L356.2 201.8 L358.2 202.4 L360.2 203.0 L362.2 203.6 L364.2 204.1 L366.2 204.7 L368.2 205.2 L370.2 205.7 L372.2 206.2 L374.3 206.6 L376.3 207.1 L378.3 207.5 L380.3 207.9 L382.3 208.3 L384.3 208.7 L386.3 209.1 L388.3 209.5 L390.3 209.8 L392.4 210.1 L394.4 210.5 L396.4 210.8 L398.4 211.1 L400.4 211.4 L402.4 211.6 L404.4 211.8 L406.4 212.0 L408.4 212.1 L410.5 212.2 L412.5 212.2 L414.5 212.2 L416.5 212.1 L418.5 211.9" fill="none" stroke="#800080" stroke-width="0.7" stroke-opacity="0.75"/>
<path d="M56.5 47.7 L58.5 48.9 L60.5 50.1 L62.5 51.2 L64.5 52.4 L66.6 53.6 L68.6 54.8 L70.6 55.9 L72.6 57.1 L74.6 58.3 L76.6 59.4 L78.6 60.6 L80.6 61.8 L82.6 62.9 L84.7 64.1 L86.7 65.3 L88.7 66.4 L90.7 67.6 L92.7 68.8 L94.7 69.9 L96.7 71.1 L98.7 72.3 L100.7 73.4 L102.8 74.6 L104.8 75.8 L106.8 76.9 L108.8 78.1 L110.8 79.2 L112.8 80.4 L114.8 81.5 L116.8 82.7 L118.8 83.8 L120.9 85.0 L122.9 86.1 L124.9 87.3 L126.9 88.4 L128.9 89.5 L130.9 90.6 L132.9 91.8 L134.9 92.9 L136.9 94.0 L139.0 95.1 L141.0 96.2 L143.0 97.3 L145.0 98.4 L147.0 99.5 L149.0 100.6 L151.0 101.7 L153.0 102.8 L155.0 103.9 L157.1 105.0 L159.1 106.1 L161.1 107.2 L163.1 108.3 L165.1 109.3 L167.1 110.4 L169.1 111.5 L171.1 112.6 L173.1 113.7 L175.2 114.7 L177.2 115.8 L179.2 116.9 L181.2 117.9 L183.2 119.0 L185.2 120.1 L187.2 121.1 L189.2 122.2 L191.2 123.2 L193.3 124.3 L195.3 125.3 L197.3 126.4 L199.3 127.4 L201.3 128.5 L203.3 129.5 L205.3 130.6 L207.3 131.6 L209.3 132.7 L211.4 133.7 L213.4 134.7 L215.4 135.8 L217.4 136.8 L219.4 137.9 L221.4 138.9 L223.4 140.0 L225.4 141.0 L227.4 142.0 L229.5 143.1 L231.5 144.1 L233.5 145.1 L235.5 146.2 L237.5 147.2 L239.5 148.2 L241.5 149.3 L243.5 150.3 L245.5 151.4 L247.6 152.4 L249.6 153.4 L251.6 154.5 L253.6 155.5 L255.6 156.5 L257.6 157.6 L259.6 158.6 L261.6 159.6 L263.6 160.6 L265.7 161.6 L267.7 162.6 L269.7 163.6 L271.7 164.6 L273.7 165.6 L275.7 166.6 L277.7 167.6 L279.7 168.6 L281.7 169.5 L283.8 170.5 L285.8 171.5 L287.8 172.4 L289.8 173.4 L291.8 174.3 L293.8 175.2 L295.8 176.1 L297.8 177.0 L299.8 177.9 L301.9 178.8 L303.9 179.7 L305.9 180.5 L307.9 181.4 L309.9 182.2 L311.9 183.0 L313.9 183.8 L315.9 184.6 L317.9 185.4 L320.0 186.2 L322.0 187.0 L324.0 187.8 L326.0 188.6 L328.0 189.4 L330.0 190.2 L332.0 191.0 L334.0 191.8 L336.0 192.6 L338.1 193.4 L340.1 194.2 L342.1 194.9 L344.1 195.7 L346.1 196.4 L348.1 197.1 L350.1 197.8 L352.1 198.5 L354.1 199.1 L356.2 199.7 L358.2 200.4 L360.2 201.0 L362.2 201.5 L364.2 202.1 L366.2 202.6 L368.2 203.2 L370.2 203.7 L372.2 204.2 L374.3 204.6 L376.3 205.1 L378.3 205.5 L380.3 206.0 L382.3 206.4 L384.3 206.8 L386.3 207.1 L388.3 207.5 L390.3 207.9 L392.4 208.2 L394.4 208.6 L396.4 208.9 L398.4 209.2 L400.4 209.5 L402.4 209.8 L404.4 210.0 L406.4 210.1 L408.4 210.3 L410.5 210.4 L412.5 210.4 L414.5 210.4 L416.5 210.3 L418.5 210.1" fill="none" stroke="#00aaaa" stroke-width="2.8"/>
<path d="M56.5 46.6 L58.5 47.7 L60.5 48.9 L62.5 50.1 L64.5 51.2 L66.6 52.4 L68.6 53.5 L70.6 54.7 L72.6 55.8 L74.6 57.0 L76.6 58.1 L78.6 59.3 L80.6 60.5 L82.6 61.6 L84.7 62.8 L86.7 63.9 L88.7 65.1 L90.7 66.2 L92.7 67.4 L94.7 68.5 L96.7 69.6 L98.7 70.8 L100.7 71.9 L102.8 73.1 L104.8 74.2 L106.8 75.4 L108.8 76.5 L110.8 77.7 L112.8 78.8 L114.8 80.0 L116.8 81.1 L118.8 82.3 L120.9 83.4 L122.9 84.5 L124.9 85.7 L126.9 86.8 L128.9 88.0 L130.9 89.1 L132.9 90.2 L134.9 91.4 L136.9 92.5 L139.0 93.6 L141.0 94.7 L143.0 95.8 L145.0 96.9 L147.0 98.0 L149.0 99.2 L151.0 100.3 L153.0 101.4 L155.0 102.4 L157.1 103.5 L159.1 104.6 L161.1 105.7 L163.1 106.8 L165.1 107.9 L167.1 109.0 L169.1 110.1 L171.1 111.2 L173.1 112.2 L175.2 113.3 L177.2 114.4 L179.2 115.5 L181.2 116.5 L183.2 117.6 L185.2 118.7 L187.2 119.7 L189.2 120.8 L191.2 121.9 L193.3 122.9 L195.3 124.0 L197.3 125.0 L199.3 126.1 L201.3 127.1 L203.3 128.2 L205.3 129.2 L207.3 130.3 L209.3 131.3 L211.4 132.4 L213.4 133.5 L215.4 134.5 L217.4 135.5 L219.4 136.6 L221.4 137.6 L223.4 138.7 L225.4 139.7 L227.4 140.8 L229.5 141.8 L231.5 142.9 L233.5 143.9 L235.5 144.9 L237.5 146.0 L239.5 147.0 L241.5 148.1 L243.5 149.1 L245.5 150.1 L247.6 151.2 L249.6 152.2 L251.6 153.3 L253.6 154.4 L255.6 155.4 L257.6 156.4 L259.6 157.5 L261.6 158.5 L263.6 159.6 L265.7 160.6 L267.7 161.6 L269.7 162.7 L271.7 163.7 L273.7 164.8 L275.7 165.8 L277.7 166.8 L279.7 167.9 L281.7 168.9 L283.8 169.9 L285.8 170.9 L287.8 171.9 L289.8 172.9 L291.8 173.9 L293.8 174.9 L295.8 175.8 L297.8 176.8 L299.8 177.7 L301.9 178.6 L303.9 179.5 L305.9 180.4 L307.9 181.2 L309.9 182.1 L311.9 182.9 L313.9 183.8 L315.9 184.6 L317.9 185.4 L320.0 186.2 L322.0 187.0 L324.0 187.8 L326.0 188.6 L328.0 189.4 L330.0 190.2 L332.0 191.0 L334.0 191.8 L336.0 192.6 L338.1 193.4 L340.1 194.2 L342.1 194.9 L344.1 195.7 L346.1 196.4 L348.1 197.1 L350.1 197.8 L352.1 198.5 L354.1 199.1 L356.2 199.7 L358.2 200.4 L360.2 201.0 L362.2 201.5 L364.2 202.1 L366.2 202.6 L368.2 203.2 L370.2 203.7 L372.2 204.2 L374.3 204.6 L376.3 205.1 L378.3 205.5 L380.3 206.0 L382.3 206.4 L384.3 206.8 L386.3 207.1 L388.3 207.5 L390.3 207.9 L392.4 208.2 L394.4 208.6 L396.4 208.9 L398.4 209.2 L400.4 209.5 L402.4 209.8 L404.4 210.0 L406.4 210.1 L408.4 210.3 L410.5 210.4 L412.5 210.4 L414.5 210.4 L416.5 210.3 L418.5 210.1" fill="none" stroke="#ff0000" stroke-width="2.8" stroke-dasharray="5.4 4.75"/>
<path d="M56.5 45.9 L58.5 47.1 L60.5 48.2 L62.5 49.4 L64.5 50.5 L66.6 51.7 L68.6 52.8 L70.6 54.0 L72.6 55.1 L74.6 56.3 L76.6 57.4 L78.6 58.6 L80.6 59.7 L82.6 60.9 L84.7 62.0 L86.7 63.2 L88.7 64.3 L90.7 65.4 L92.7 66.6 L94.7 67.7 L96.7 68.9 L98.7 70.0 L100.7 71.2 L102.8 72.3 L104.8 73.4 L106.8 74.6 L108.8 75.7 L110.8 76.9 L112.8 78.0 L114.8 79.2 L116.8 80.3 L118.8 81.4 L120.9 82.6 L122.9 83.7 L124.9 84.9 L126.9 86.0 L128.9 87.1 L130.9 88.3 L132.9 89.4 L134.9 90.6 L136.9 91.7 L139.0 92.8 L141.0 93.9 L143.0 95.0 L145.0 96.2 L147.0 97.3 L149.0 98.4 L151.0 99.5 L153.0 100.6 L155.0 101.7 L157.1 102.8 L159.1 103.9 L161.1 105.0 L163.1 106.1 L165.1 107.2 L167.1 108.3 L169.1 109.4 L171.1 110.4 L173.1 111.5 L175.2 112.6 L177.2 113.7 L179.2 114.8 L181.2 115.8 L183.2 116.9 L185.2 118.0 L187.2 119.0 L189.2 120.1 L191.2 121.2 L193.3 122.2 L195.3 123.3 L197.3 124.4 L199.3 125.4 L201.3 126.5 L203.3 127.5 L205.3 128.6 L207.3 129.6 L209.3 130.7 L211.4 131.8 L213.4 132.8 L215.4 133.9 L217.4 134.9 L219.4 136.0 L221.4 137.0 L223.4 138.1 L225.4 139.1 L227.4 140.1 L229.5 141.2 L231.5 142.2 L233.5 143.3 L235.5 144.3 L237.5 145.4 L239.5 146.4 L241.5 147.4 L243.5 148.5 L245.5 149.5 L247.6 150.6 L249.6 151.6 L251.6 152.7 L253.6 153.7 L255.6 154.8 L257.6 155.8 L259.6 156.9 L261.6 157.9 L263.6 159.0 L265.7 160.0 L267.7 161.1 L269.7 162.2 L271.7 163.2 L273.7 164.3 L275.7 165.4 L277.7 166.5 L279.7 167.5 L281.7 168.6 L283.8 169.7 L285.8 170.7 L287.8 171.7 L289.8 172.8 L291.8 173.8 L293.8 174.8 L295.8 175.8 L297.8 176.7 L299.8 177.6 L301.9 178.6 L303.9 179.5 L305.9 180.3 L307.9 181.2 L309.9 182.1 L311.9 182.9 L313.9 183.7 L315.9 184.6 L317.9 185.4 L320.0 186.2 L322.0 187.0 L324.0 187.8 L326.0 188.6 L328.0 189.4 L330.0 190.2 L332.0 191.0 L334.0 191.8 L336.0 192.6 L338.1 193.4 L340.1 194.2 L342.1 194.9 L344.1 195.7 L346.1 196.4 L348.1 197.1 L350.1 197.8 L352.1 198.5 L354.1 199.1 L356.2 199.7 L358.2 200.4 L360.2 201.0 L362.2 201.5 L364.2 202.1 L366.2 202.6 L368.2 203.2 L370.2 203.7 L372.2 204.2 L374.3 204.6 L376.3 205.1 L378.3 205.5 L380.3 206.0 L382.3 206.4 L384.3 206.8 L386.3 207.1 L388.3 207.5 L390.3 207.9 L392.4 208.2 L394.4 208.6 L396.4 208.9 L398.4 209.2 L400.4 209.5 L402.4 209.8 L404.4 210.0 L406.4 210.1 L408.4 210.3 L410.5 210.4 L412.5 210.4 L414.5 210.4 L416.5 210.3 L418.5 210.1" fill="none" stroke="#800080" stroke-width="2.8" stroke-dasharray="1.4 4.9 5.3 4.6" stroke-dashoffset="3.1"/>
</g>
<g clip-path="url(#cl)">
<path d="M56.5 210.2 L72.1 226.0 L100.0 255.4 L110.3 262.7 L120.2 264.5 L133.6 274.7 L143.7 282.2 L149.0 284.9 L153.8 286.5 L160.0 287.5 L167.2 288.7 L178.9 290.5 L197.8 292.9 L216.7 294.9 L225.0 295.7 L227.0 295.9 L229.0 296.1 L231.0 296.2 L233.0 296.4 L235.0 296.6 L237.0 296.7 L239.0 296.8 L241.0 297.0 L243.0 297.1 L245.0 297.2 L247.0 297.3 L249.0 297.4 L251.0 297.6 L253.0 297.7 L255.0 297.8 L257.0 297.9 L259.0 298.0 L261.0 298.1 L263.0 298.2 L265.0 298.4 L267.0 298.5 L269.0 298.6 L271.0 298.7 L273.0 298.8 L275.0 299.0 L277.0 299.1 L279.0 299.2 L281.0 299.3 L283.0 299.3 L285.0 299.4 L287.0 299.5 L289.0 299.6 L291.0 299.7 L293.0 299.8 L295.0 299.8 L297.0 299.9 L299.0 300.0 L301.0 300.0 L303.0 300.1 L305.0 300.1 L307.0 300.2 L309.0 300.2 L311.0 300.3 L313.0 300.3 L315.0 300.4 L317.0 300.4 L319.0 300.5 L321.0 300.6 L323.0 300.7 L325.0 300.8 L327.0 300.9 L329.0 301.0 L331.0 301.1 L333.0 301.2 L335.0 301.2 L337.0 301.3 L339.0 301.4 L341.0 301.5 L343.0 301.6 L345.0 301.7 L347.0 301.8 L349.0 301.9 L351.0 302.0 L353.0 302.1 L355.0 302.2 L357.0 302.3 L359.0 302.4 L361.0 302.5 L363.0 302.6 L365.0 302.7 L367.0 302.8 L369.0 302.9 L371.0 303.1 L373.0 303.2 L375.0 303.3 L377.0 303.4 L379.0 303.5 L381.0 303.6 L383.0 303.7 L385.0 303.9 L387.0 304.0 L389.0 304.1 L391.0 304.2 L393.0 304.3 L395.0 304.5 L397.0 304.6 L399.0 304.7 L401.0 304.8 L403.0 305.0 L405.0 305.1 L407.0 305.2 L409.0 305.4 L411.0 305.5 L413.0 305.6 L415.0 305.8 L417.0 305.9 L418.5 306.0 L418.5 348.7 L417.0 348.8 L415.0 348.9 L413.0 349.0 L411.0 349.1 L409.0 349.2 L407.0 349.3 L405.0 349.4 L403.0 349.5 L401.0 349.6 L399.0 349.7 L397.0 349.8 L395.0 349.9 L393.0 350.0 L391.0 350.2 L389.0 350.3 L387.0 350.4 L385.0 350.5 L383.0 350.6 L381.0 350.7 L379.0 350.8 L377.0 350.9 L375.0 351.0 L373.0 351.1 L371.0 351.2 L369.0 351.2 L367.0 351.3 L365.0 351.4 L363.0 351.6 L361.0 351.7 L359.0 351.8 L357.0 351.9 L355.0 352.0 L353.0 352.1 L351.0 352.2 L349.0 352.3 L347.0 352.4 L345.0 352.5 L343.0 352.6 L341.0 352.7 L339.0 352.8 L337.0 352.9 L335.0 353.0 L333.0 353.0 L331.0 353.1 L329.0 353.2 L327.0 353.3 L325.0 353.3 L323.0 353.4 L321.0 353.5 L319.0 353.5 L317.0 353.6 L315.0 353.6 L313.0 353.7 L311.0 353.7 L309.0 353.8 L307.0 353.8 L305.0 353.9 L303.0 353.9 L301.0 354.0 L299.0 354.0 L297.0 354.1 L295.0 354.2 L293.0 354.2 L291.0 354.3 L289.0 354.4 L287.0 354.6 L285.0 354.7 L283.0 354.8 L281.0 354.9 L279.0 355.0 L277.0 355.1 L275.0 355.3 L273.0 355.4 L271.0 355.5 L269.0 355.7 L267.0 355.8 L265.0 355.9 L263.0 356.1 L261.0 356.2 L259.0 356.4 L257.0 356.6 L255.0 356.8 L253.0 357.0 L251.0 357.2 L249.0 357.4 L247.0 357.6 L245.0 357.8 L243.0 358.1 L241.0 358.3 L239.0 358.5 L237.0 358.7 L235.0 359.0 L233.0 359.2 L231.0 359.4 L229.0 359.6 L227.0 359.9 L225.0 360.1 L220.0 360.6 L170.0 364.8 L140.0 368.3 L120.5 370.6 L109.5 375.3 L68.4 427.2 L56.5 442.4Z" fill="#00aaaa" fill-opacity="0.2"/>
<path d="M56.5 186.0 L86.8 226.0 L100.0 238.4 L110.3 244.7 L120.2 246.0 L133.6 255.4 L143.7 262.2 L149.0 265.1 L153.8 267.1 L160.0 268.7 L167.2 270.0 L180.0 272.2 L220.0 278.8 L225.0 279.7 L227.0 280.0 L229.0 280.4 L231.0 280.8 L233.0 281.1 L235.0 281.5 L237.0 281.8 L239.0 282.1 L241.0 282.4 L243.0 282.7 L245.0 283.0 L247.0 283.2 L249.0 283.5 L251.0 283.9 L253.0 284.2 L255.0 284.6 L257.0 285.1 L259.0 285.5 L261.0 286.0 L263.0 286.5 L265.0 287.1 L267.0 287.6 L269.0 288.2 L271.0 288.8 L273.0 289.3 L275.0 290.0 L277.0 290.6 L279.0 291.2 L281.0 291.7 L283.0 292.3 L285.0 292.9 L287.0 293.5 L289.0 294.1 L291.0 294.8 L293.0 295.4 L295.0 296.0 L297.0 296.6 L299.0 297.1 L301.0 297.5 L303.0 297.9 L305.0 298.3 L307.0 298.6 L309.0 299.0 L311.0 299.3 L313.0 299.6 L315.0 299.8 L317.0 300.1 L319.0 300.3 L321.0 300.5 L323.0 300.6 L325.0 300.8 L327.0 300.9 L329.0 301.1 L331.0 301.2 L333.0 301.3 L335.0 301.4 L337.0 301.5 L339.0 301.6 L341.0 301.7 L343.0 301.8 L345.0 301.9 L347.0 302.0 L349.0 302.0 L351.0 302.1 L353.0 302.2 L355.0 302.3 L357.0 302.4 L359.0 302.5 L361.0 302.6 L363.0 302.6 L365.0 302.7 L367.0 302.8 L369.0 302.9 L371.0 303.1 L373.0 303.2 L375.0 303.3 L377.0 303.4 L379.0 303.5 L381.0 303.6 L383.0 303.7 L385.0 303.9 L387.0 304.0 L389.0 304.1 L391.0 304.2 L393.0 304.3 L395.0 304.5 L397.0 304.6 L399.0 304.7 L401.0 304.8 L403.0 305.0 L405.0 305.1 L407.0 305.2 L409.0 305.4 L411.0 305.5 L413.0 305.6 L415.0 305.8 L417.0 305.9 L418.5 306.0 L418.5 348.7 L417.0 348.8 L415.0 348.9 L413.0 349.0 L411.0 349.1 L409.0 349.2 L407.0 349.3 L405.0 349.4 L403.0 349.5 L401.0 349.6 L399.0 349.7 L397.0 349.8 L395.0 349.9 L393.0 350.0 L391.0 350.2 L389.0 350.3 L387.0 350.4 L385.0 350.5 L383.0 350.6 L381.0 350.7 L379.0 350.8 L377.0 350.9 L375.0 351.0 L373.0 351.1 L371.0 351.2 L369.0 351.2 L367.0 351.4 L365.0 351.5 L363.0 351.6 L361.0 351.7 L359.0 351.8 L357.0 351.9 L355.0 352.1 L353.0 352.2 L351.0 352.3 L349.0 352.4 L347.0 352.5 L345.0 352.7 L343.0 352.8 L341.0 352.9 L339.0 353.0 L337.0 353.1 L335.0 353.2 L333.0 353.2 L331.0 353.3 L329.0 353.4 L327.0 353.4 L325.0 353.5 L323.0 353.5 L321.0 353.5 L319.0 353.5 L317.0 353.4 L315.0 353.4 L313.0 353.3 L311.0 353.2 L309.0 353.0 L307.0 352.9 L305.0 352.7 L303.0 352.5 L301.0 352.3 L299.0 352.1 L297.0 351.8 L295.0 351.5 L293.0 351.2 L291.0 350.8 L289.0 350.4 L287.0 349.9 L285.0 349.4 L283.0 348.8 L281.0 348.2 L279.0 347.5 L277.0 346.7 L275.0 345.9 L273.0 345.1 L271.0 344.4 L269.0 343.7 L267.0 343.2 L265.0 342.9 L263.0 342.6 L261.0 342.4 L259.0 342.3 L257.0 342.4 L255.0 342.5 L253.0 342.7 L251.0 342.9 L249.0 343.0 L247.0 343.2 L245.0 343.3 L243.0 343.4 L241.0 343.5 L239.0 343.7 L237.0 343.8 L235.0 343.9 L233.0 344.1 L231.0 344.2 L229.0 344.4 L227.0 344.5 L225.0 344.7 L220.0 345.0 L170.0 348.2 L140.0 350.4 L120.5 352.4 L110.0 357.1 L56.5 422.0Z" fill="#ff0000" fill-opacity="0.2"/>
<path d="M56.5 184.0 L100.4 226.4 L110.3 232.2 L120.2 232.9 L133.6 242.8 L143.7 249.6 L149.0 252.4 L153.8 254.2 L160.0 256.0 L167.2 257.6 L180.0 260.4 L220.0 269.2 L225.0 270.5 L227.0 271.0 L229.0 271.5 L231.0 272.1 L233.0 272.6 L235.0 273.1 L237.0 273.6 L239.0 274.0 L241.0 274.4 L243.0 274.7 L245.0 275.0 L247.0 275.4 L249.0 275.7 L251.0 276.1 L253.0 276.5 L255.0 276.9 L257.0 277.4 L259.0 277.9 L261.0 278.6 L263.0 279.3 L265.0 280.2 L267.0 281.1 L269.0 282.0 L271.0 283.1 L273.0 284.2 L275.0 285.4 L277.0 286.6 L279.0 287.6 L281.0 288.7 L283.0 289.7 L285.0 290.6 L287.0 291.6 L289.0 292.5 L291.0 293.3 L293.0 294.2 L295.0 294.9 L297.0 295.6 L299.0 296.2 L301.0 296.7 L303.0 297.3 L305.0 297.7 L307.0 298.2 L309.0 298.6 L311.0 299.0 L313.0 299.4 L315.0 299.7 L317.0 300.0 L319.0 300.2 L321.0 300.4 L323.0 300.6 L325.0 300.8 L327.0 300.9 L329.0 301.1 L331.0 301.2 L333.0 301.3 L335.0 301.4 L337.0 301.5 L339.0 301.6 L341.0 301.7 L343.0 301.8 L345.0 301.9 L347.0 302.0 L349.0 302.1 L351.0 302.1 L353.0 302.2 L355.0 302.3 L357.0 302.4 L359.0 302.5 L361.0 302.6 L363.0 302.7 L365.0 302.7 L367.0 302.8 L369.0 302.9 L371.0 303.1 L373.0 303.2 L375.0 303.3 L377.0 303.4 L379.0 303.5 L381.0 303.6 L383.0 303.7 L385.0 303.9 L387.0 304.0 L389.0 304.1 L391.0 304.2 L393.0 304.3 L395.0 304.5 L397.0 304.6 L399.0 304.7 L401.0 304.8 L403.0 305.0 L405.0 305.1 L407.0 305.2 L409.0 305.4 L411.0 305.5 L413.0 305.6 L415.0 305.8 L417.0 305.9 L418.5 306.0 L418.5 348.7 L417.0 348.8 L415.0 348.9 L413.0 349.0 L411.0 349.1 L409.0 349.2 L407.0 349.3 L405.0 349.4 L403.0 349.5 L401.0 349.6 L399.0 349.7 L397.0 349.8 L395.0 349.9 L393.0 350.0 L391.0 350.2 L389.0 350.3 L387.0 350.4 L385.0 350.5 L383.0 350.6 L381.0 350.7 L379.0 350.8 L377.0 350.9 L375.0 351.0 L373.0 351.1 L371.0 351.2 L369.0 351.2 L367.0 351.4 L365.0 351.5 L363.0 351.6 L361.0 351.7 L359.0 351.8 L357.0 351.9 L355.0 352.1 L353.0 352.2 L351.0 352.3 L349.0 352.4 L347.0 352.5 L345.0 352.7 L343.0 352.8 L341.0 352.9 L339.0 353.0 L337.0 353.1 L335.0 353.2 L333.0 353.2 L331.0 353.3 L329.0 353.4 L327.0 353.4 L325.0 353.5 L323.0 353.5 L321.0 353.5 L319.0 353.5 L317.0 353.4 L315.0 353.3 L313.0 353.1 L311.0 353.0 L309.0 352.9 L307.0 352.7 L305.0 352.5 L303.0 352.2 L301.0 351.9 L299.0 351.6 L297.0 351.3 L295.0 350.9 L293.0 350.4 L291.0 349.9 L289.0 349.3 L287.0 348.7 L285.0 347.9 L283.0 347.1 L281.0 346.1 L279.0 344.9 L277.0 343.6 L275.0 342.3 L273.0 341.1 L271.0 339.7 L269.0 338.5 L267.0 337.6 L265.0 337.0 L263.0 336.6 L261.0 336.2 L259.0 336.1 L257.0 336.2 L255.0 336.3 L253.0 336.6 L251.0 336.8 L249.0 337.1 L247.0 337.3 L245.0 337.5 L243.0 337.7 L241.0 337.9 L239.0 338.1 L237.0 338.2 L235.0 338.4 L233.0 338.5 L231.0 338.7 L229.0 338.8 L227.0 338.9 L225.0 339.1 L220.0 339.4 L170.0 343.1 L140.0 345.1 L121.5 346.7 L109.4 351.8 L56.5 413.6Z" fill="#800080" fill-opacity="0.2"/>
<path d="M56.5 210.2 L72.1 226.0 L100.0 255.4 L110.3 262.7 L120.2 264.5 L133.6 274.7 L143.7 282.2 L149.0 284.9 L153.8 286.5 L160.0 287.5 L167.2 288.7 L178.9 290.5 L197.8 292.9 L216.7 294.9 L225.0 295.7 L227.0 295.9 L229.0 296.1 L231.0 296.2 L233.0 296.4 L235.0 296.6 L237.0 296.7 L239.0 296.8 L241.0 297.0 L243.0 297.1 L245.0 297.2 L247.0 297.3 L249.0 297.4 L251.0 297.6 L253.0 297.7 L255.0 297.8 L257.0 297.9 L259.0 298.0 L261.0 298.1 L263.0 298.2 L265.0 298.4 L267.0 298.5 L269.0 298.6 L271.0 298.7 L273.0 298.8 L275.0 299.0 L277.0 299.1 L279.0 299.2 L281.0 299.3 L283.0 299.3 L285.0 299.4 L287.0 299.5 L289.0 299.6 L291.0 299.7 L293.0 299.8 L295.0 299.8 L297.0 299.9 L299.0 300.0 L301.0 300.0 L303.0 300.1 L305.0 300.1 L307.0 300.2 L309.0 300.2 L311.0 300.3 L313.0 300.3 L315.0 300.4 L317.0 300.4 L319.0 300.5 L321.0 300.6 L323.0 300.7 L325.0 300.8 L327.0 300.9 L329.0 301.0 L331.0 301.1 L333.0 301.2 L335.0 301.2 L337.0 301.3 L339.0 301.4 L341.0 301.5 L343.0 301.6 L345.0 301.7 L347.0 301.8 L349.0 301.9 L351.0 302.0 L353.0 302.1 L355.0 302.2 L357.0 302.3 L359.0 302.4 L361.0 302.5 L363.0 302.6 L365.0 302.7 L367.0 302.8 L369.0 302.9 L371.0 303.1 L373.0 303.2 L375.0 303.3 L377.0 303.4 L379.0 303.5 L381.0 303.6 L383.0 303.7 L385.0 303.9 L387.0 304.0 L389.0 304.1 L391.0 304.2 L393.0 304.3 L395.0 304.5 L397.0 304.6 L399.0 304.7 L401.0 304.8 L403.0 305.0 L405.0 305.1 L407.0 305.2 L409.0 305.4 L411.0 305.5 L413.0 305.6 L415.0 305.8 L417.0 305.9 L418.5 306.0" fill="none" stroke="#00aaaa" stroke-width="0.7" stroke-opacity="0.75"/>
<path d="M56.5 442.4 L68.4 427.2 L109.5 375.3 L120.5 370.6 L140.0 368.3 L170.0 364.8 L220.0 360.6 L225.0 360.1 L227.0 359.9 L229.0 359.6 L231.0 359.4 L233.0 359.2 L235.0 359.0 L237.0 358.7 L239.0 358.5 L241.0 358.3 L243.0 358.1 L245.0 357.8 L247.0 357.6 L249.0 357.4 L251.0 357.2 L253.0 357.0 L255.0 356.8 L257.0 356.6 L259.0 356.4 L261.0 356.2 L263.0 356.1 L265.0 355.9 L267.0 355.8 L269.0 355.7 L271.0 355.5 L273.0 355.4 L275.0 355.3 L277.0 355.1 L279.0 355.0 L281.0 354.9 L283.0 354.8 L285.0 354.7 L287.0 354.6 L289.0 354.4 L291.0 354.3 L293.0 354.2 L295.0 354.2 L297.0 354.1 L299.0 354.0 L301.0 354.0 L303.0 353.9 L305.0 353.9 L307.0 353.8 L309.0 353.8 L311.0 353.7 L313.0 353.7 L315.0 353.6 L317.0 353.6 L319.0 353.5 L321.0 353.5 L323.0 353.4 L325.0 353.3 L327.0 353.3 L329.0 353.2 L331.0 353.1 L333.0 353.0 L335.0 353.0 L337.0 352.9 L339.0 352.8 L341.0 352.7 L343.0 352.6 L345.0 352.5 L347.0 352.4 L349.0 352.3 L351.0 352.2 L353.0 352.1 L355.0 352.0 L357.0 351.9 L359.0 351.8 L361.0 351.7 L363.0 351.6 L365.0 351.4 L367.0 351.3 L369.0 351.2 L371.0 351.2 L373.0 351.1 L375.0 351.0 L377.0 350.9 L379.0 350.8 L381.0 350.7 L383.0 350.6 L385.0 350.5 L387.0 350.4 L389.0 350.3 L391.0 350.2 L393.0 350.0 L395.0 349.9 L397.0 349.8 L399.0 349.7 L401.0 349.6 L403.0 349.5 L405.0 349.4 L407.0 349.3 L409.0 349.2 L411.0 349.1 L413.0 349.0 L415.0 348.9 L417.0 348.8 L418.5 348.7" fill="none" stroke="#00aaaa" stroke-width="0.7" stroke-opacity="0.75"/>
<path d="M56.5 186.0 L86.8 226.0 L100.0 238.4 L110.3 244.7 L120.2 246.0 L133.6 255.4 L143.7 262.2 L149.0 265.1 L153.8 267.1 L160.0 268.7 L167.2 270.0 L180.0 272.2 L220.0 278.8 L225.0 279.7 L227.0 280.0 L229.0 280.4 L231.0 280.8 L233.0 281.1 L235.0 281.5 L237.0 281.8 L239.0 282.1 L241.0 282.4 L243.0 282.7 L245.0 283.0 L247.0 283.2 L249.0 283.5 L251.0 283.9 L253.0 284.2 L255.0 284.6 L257.0 285.1 L259.0 285.5 L261.0 286.0 L263.0 286.5 L265.0 287.1 L267.0 287.6 L269.0 288.2 L271.0 288.8 L273.0 289.3 L275.0 290.0 L277.0 290.6 L279.0 291.2 L281.0 291.7 L283.0 292.3 L285.0 292.9 L287.0 293.5 L289.0 294.1 L291.0 294.8 L293.0 295.4 L295.0 296.0 L297.0 296.6 L299.0 297.1 L301.0 297.5 L303.0 297.9 L305.0 298.3 L307.0 298.6 L309.0 299.0 L311.0 299.3 L313.0 299.6 L315.0 299.8 L317.0 300.1 L319.0 300.3 L321.0 300.5 L323.0 300.6 L325.0 300.8 L327.0 300.9 L329.0 301.1 L331.0 301.2 L333.0 301.3 L335.0 301.4 L337.0 301.5 L339.0 301.6 L341.0 301.7 L343.0 301.8 L345.0 301.9 L347.0 302.0 L349.0 302.0 L351.0 302.1 L353.0 302.2 L355.0 302.3 L357.0 302.4 L359.0 302.5 L361.0 302.6 L363.0 302.6 L365.0 302.7 L367.0 302.8 L369.0 302.9 L371.0 303.1 L373.0 303.2 L375.0 303.3 L377.0 303.4 L379.0 303.5 L381.0 303.6 L383.0 303.7 L385.0 303.9 L387.0 304.0 L389.0 304.1 L391.0 304.2 L393.0 304.3 L395.0 304.5 L397.0 304.6 L399.0 304.7 L401.0 304.8 L403.0 305.0 L405.0 305.1 L407.0 305.2 L409.0 305.4 L411.0 305.5 L413.0 305.6 L415.0 305.8 L417.0 305.9 L418.5 306.0" fill="none" stroke="#ff0000" stroke-width="0.7" stroke-opacity="0.75"/>
<path d="M56.5 422.0 L110.0 357.1 L120.5 352.4 L140.0 350.4 L170.0 348.2 L220.0 345.0 L225.0 344.7 L227.0 344.5 L229.0 344.4 L231.0 344.2 L233.0 344.1 L235.0 343.9 L237.0 343.8 L239.0 343.7 L241.0 343.5 L243.0 343.4 L245.0 343.3 L247.0 343.2 L249.0 343.0 L251.0 342.9 L253.0 342.7 L255.0 342.5 L257.0 342.4 L259.0 342.3 L261.0 342.4 L263.0 342.6 L265.0 342.9 L267.0 343.2 L269.0 343.7 L271.0 344.4 L273.0 345.1 L275.0 345.9 L277.0 346.7 L279.0 347.5 L281.0 348.2 L283.0 348.8 L285.0 349.4 L287.0 349.9 L289.0 350.4 L291.0 350.8 L293.0 351.2 L295.0 351.5 L297.0 351.8 L299.0 352.1 L301.0 352.3 L303.0 352.5 L305.0 352.7 L307.0 352.9 L309.0 353.0 L311.0 353.2 L313.0 353.3 L315.0 353.4 L317.0 353.4 L319.0 353.5 L321.0 353.5 L323.0 353.5 L325.0 353.5 L327.0 353.4 L329.0 353.4 L331.0 353.3 L333.0 353.2 L335.0 353.2 L337.0 353.1 L339.0 353.0 L341.0 352.9 L343.0 352.8 L345.0 352.7 L347.0 352.5 L349.0 352.4 L351.0 352.3 L353.0 352.2 L355.0 352.1 L357.0 351.9 L359.0 351.8 L361.0 351.7 L363.0 351.6 L365.0 351.5 L367.0 351.4 L369.0 351.2 L371.0 351.2 L373.0 351.1 L375.0 351.0 L377.0 350.9 L379.0 350.8 L381.0 350.7 L383.0 350.6 L385.0 350.5 L387.0 350.4 L389.0 350.3 L391.0 350.2 L393.0 350.0 L395.0 349.9 L397.0 349.8 L399.0 349.7 L401.0 349.6 L403.0 349.5 L405.0 349.4 L407.0 349.3 L409.0 349.2 L411.0 349.1 L413.0 349.0 L415.0 348.9 L417.0 348.8 L418.5 348.7" fill="none" stroke="#ff0000" stroke-width="0.7" stroke-opacity="0.75"/>
<path d="M56.5 184.0 L100.4 226.4 L110.3 232.2 L120.2 232.9 L133.6 242.8 L143.7 249.6 L149.0 252.4 L153.8 254.2 L160.0 256.0 L167.2 257.6 L180.0 260.4 L220.0 269.2 L225.0 270.5 L227.0 271.0 L229.0 271.5 L231.0 272.1 L233.0 272.6 L235.0 273.1 L237.0 273.6 L239.0 274.0 L241.0 274.4 L243.0 274.7 L245.0 275.0 L247.0 275.4 L249.0 275.7 L251.0 276.1 L253.0 276.5 L255.0 276.9 L257.0 277.4 L259.0 277.9 L261.0 278.6 L263.0 279.3 L265.0 280.2 L267.0 281.1 L269.0 282.0 L271.0 283.1 L273.0 284.2 L275.0 285.4 L277.0 286.6 L279.0 287.6 L281.0 288.7 L283.0 289.7 L285.0 290.6 L287.0 291.6 L289.0 292.5 L291.0 293.3 L293.0 294.2 L295.0 294.9 L297.0 295.6 L299.0 296.2 L301.0 296.7 L303.0 297.3 L305.0 297.7 L307.0 298.2 L309.0 298.6 L311.0 299.0 L313.0 299.4 L315.0 299.7 L317.0 300.0 L319.0 300.2 L321.0 300.4 L323.0 300.6 L325.0 300.8 L327.0 300.9 L329.0 301.1 L331.0 301.2 L333.0 301.3 L335.0 301.4 L337.0 301.5 L339.0 301.6 L341.0 301.7 L343.0 301.8 L345.0 301.9 L347.0 302.0 L349.0 302.1 L351.0 302.1 L353.0 302.2 L355.0 302.3 L357.0 302.4 L359.0 302.5 L361.0 302.6 L363.0 302.7 L365.0 302.7 L367.0 302.8 L369.0 302.9 L371.0 303.1 L373.0 303.2 L375.0 303.3 L377.0 303.4 L379.0 303.5 L381.0 303.6 L383.0 303.7 L385.0 303.9 L387.0 304.0 L389.0 304.1 L391.0 304.2 L393.0 304.3 L395.0 304.5 L397.0 304.6 L399.0 304.7 L401.0 304.8 L403.0 305.0 L405.0 305.1 L407.0 305.2 L409.0 305.4 L411.0 305.5 L413.0 305.6 L415.0 305.8 L417.0 305.9 L418.5 306.0" fill="none" stroke="#800080" stroke-width="0.7" stroke-opacity="0.75"/>
<path d="M56.5 413.6 L109.4 351.8 L121.5 346.7 L140.0 345.1 L170.0 343.1 L220.0 339.4 L225.0 339.1 L227.0 338.9 L229.0 338.8 L231.0 338.7 L233.0 338.5 L235.0 338.4 L237.0 338.2 L239.0 338.1 L241.0 337.9 L243.0 337.7 L245.0 337.5 L247.0 337.3 L249.0 337.1 L251.0 336.8 L253.0 336.6 L255.0 336.3 L257.0 336.2 L259.0 336.1 L261.0 336.2 L263.0 336.6 L265.0 337.0 L267.0 337.6 L269.0 338.5 L271.0 339.7 L273.0 341.1 L275.0 342.3 L277.0 343.6 L279.0 344.9 L281.0 346.1 L283.0 347.1 L285.0 347.9 L287.0 348.7 L289.0 349.3 L291.0 349.9 L293.0 350.4 L295.0 350.9 L297.0 351.3 L299.0 351.6 L301.0 351.9 L303.0 352.2 L305.0 352.5 L307.0 352.7 L309.0 352.9 L311.0 353.0 L313.0 353.1 L315.0 353.3 L317.0 353.4 L319.0 353.5 L321.0 353.5 L323.0 353.5 L325.0 353.5 L327.0 353.4 L329.0 353.4 L331.0 353.3 L333.0 353.2 L335.0 353.2 L337.0 353.1 L339.0 353.0 L341.0 352.9 L343.0 352.8 L345.0 352.7 L347.0 352.5 L349.0 352.4 L351.0 352.3 L353.0 352.2 L355.0 352.1 L357.0 351.9 L359.0 351.8 L361.0 351.7 L363.0 351.6 L365.0 351.5 L367.0 351.4 L369.0 351.2 L371.0 351.2 L373.0 351.1 L375.0 351.0 L377.0 350.9 L379.0 350.8 L381.0 350.7 L383.0 350.6 L385.0 350.5 L387.0 350.4 L389.0 350.3 L391.0 350.2 L393.0 350.0 L395.0 349.9 L397.0 349.8 L399.0 349.7 L401.0 349.6 L403.0 349.5 L405.0 349.4 L407.0 349.3 L409.0 349.2 L411.0 349.1 L413.0 349.0 L415.0 348.9 L417.0 348.8 L418.5 348.7" fill="none" stroke="#800080" stroke-width="0.7" stroke-opacity="0.75"/>
<path d="M56.5 327.2 H418.5" stroke="#00aaaa" stroke-width="2.5"/>
<path d="M56.5 313.3 L90.0 309.8 L110.0 308.0 L120.0 307.5 L140.0 308.4 L160.0 309.2 L220.0 311.4 L225.0 311.5 L227.0 311.6 L229.0 311.7 L231.0 311.7 L233.0 311.8 L235.0 311.8 L237.0 311.9 L239.0 312.0 L241.0 312.0 L243.0 312.1 L245.0 312.3 L247.0 312.4 L249.0 312.5 L251.0 312.7 L253.0 312.9 L255.0 313.1 L257.0 313.3 L259.0 313.5 L261.0 313.7 L263.0 313.9 L265.0 314.2 L267.0 314.6 L269.0 315.0 L271.0 315.6 L273.0 316.3 L275.0 317.1 L277.0 317.8 L279.0 318.5 L281.0 319.2 L283.0 319.8 L285.0 320.4 L287.0 321.0 L289.0 321.6 L291.0 322.1 L293.0 322.7 L295.0 323.3 L297.0 323.8 L299.0 324.3 L301.0 324.7 L303.0 325.1 L305.0 325.4 L307.0 325.7 L309.0 326.0 L311.0 326.2 L313.0 326.4 L315.0 326.6 L317.0 326.7 L319.0 326.9 L321.0 327.0 L323.0 327.1 L325.0 327.1 L327.0 327.2 L329.0 327.2 L331.0 327.2 L333.0 327.2 L335.0 327.2 L337.0 327.2 L339.0 327.2 L341.0 327.2 L343.0 327.2 L345.0 327.2 L347.0 327.2 L349.0 327.2 L351.0 327.2 L353.0 327.2 L355.0 327.2 L357.0 327.2 L359.0 327.2 L361.0 327.2 L363.0 327.2 L365.0 327.2 L367.0 327.2 L369.0 327.2 L371.0 327.2 L373.0 327.2 L375.0 327.2 L377.0 327.2 L379.0 327.2 L381.0 327.2 L383.0 327.2 L385.0 327.2 L387.0 327.2 L389.0 327.2 L391.0 327.2 L393.0 327.2 L395.0 327.2 L397.0 327.2 L399.0 327.2 L401.0 327.2 L403.0 327.2 L405.0 327.2 L407.0 327.2 L409.0 327.2 L411.0 327.2 L413.0 327.2 L415.0 327.2 L417.0 327.2 L418.5 327.2" fill="none" stroke="#ff0000" stroke-width="2.8" stroke-dasharray="5.4 4.75"/>
<path d="M56.5 305.2 L90.0 300.3 L110.0 297.6 L120.0 296.9 L140.0 298.3 L160.0 299.8 L220.0 303.4 L225.0 303.6 L227.0 303.7 L229.0 303.8 L231.0 303.8 L233.0 303.9 L235.0 304.0 L237.0 304.1 L239.0 304.2 L241.0 304.3 L243.0 304.4 L245.0 304.5 L247.0 304.6 L249.0 304.7 L251.0 304.9 L253.0 305.0 L255.0 305.1 L257.0 305.2 L259.0 305.4 L261.0 305.7 L263.0 306.2 L265.0 306.8 L267.0 307.5 L269.0 308.4 L271.0 309.4 L273.0 310.5 L275.0 311.7 L277.0 312.9 L279.0 314.0 L281.0 315.2 L283.0 316.3 L285.0 317.4 L287.0 318.5 L289.0 319.5 L291.0 320.6 L293.0 321.6 L295.0 322.4 L297.0 323.0 L299.0 323.6 L301.0 324.0 L303.0 324.5 L305.0 324.8 L307.0 325.2 L309.0 325.5 L311.0 325.8 L313.0 326.0 L315.0 326.2 L317.0 326.4 L319.0 326.6 L321.0 326.7 L323.0 326.8 L325.0 327.0 L327.0 327.1 L329.0 327.1 L331.0 327.2 L333.0 327.2 L335.0 327.2 L337.0 327.2 L339.0 327.2 L341.0 327.2 L343.0 327.2 L345.0 327.2 L347.0 327.2 L349.0 327.2 L351.0 327.2 L353.0 327.2 L355.0 327.2 L357.0 327.2 L359.0 327.2 L361.0 327.2 L363.0 327.2 L365.0 327.2 L367.0 327.2 L369.0 327.2 L371.0 327.2 L373.0 327.2 L375.0 327.2 L377.0 327.2 L379.0 327.2 L381.0 327.2 L383.0 327.2 L385.0 327.2 L387.0 327.2 L389.0 327.2 L391.0 327.2 L393.0 327.2 L395.0 327.2 L397.0 327.2 L399.0 327.2 L401.0 327.2 L403.0 327.2 L405.0 327.2 L407.0 327.2 L409.0 327.2 L411.0 327.2 L413.0 327.2 L415.0 327.2 L417.0 327.2 L418.5 327.2" fill="none" stroke="#800080" stroke-width="2.8" stroke-dasharray="1.4 4.9 5.3 4.6" stroke-dashoffset="3.1"/>
</g>
<path d="M120.64 25.20 v2.90 M120.64 222.30 v7.20 M120.64 427.20 v-2.70 M158.16 25.20 v2.90 M158.16 222.30 v7.20 M158.16 427.20 v-2.70 M184.78 25.20 v2.90 M184.78 222.30 v7.20 M184.78 427.20 v-2.70 M205.43 25.20 v2.90 M205.43 222.30 v7.20 M205.43 427.20 v-2.70 M222.30 25.20 v2.90 M222.30 222.30 v7.20 M222.30 427.20 v-2.70 M236.57 25.20 v2.90 M236.57 222.30 v7.20 M236.57 427.20 v-2.70 M248.92 25.20 v2.90 M248.92 222.30 v7.20 M248.92 427.20 v-2.70 M259.82 25.20 v2.90 M259.82 222.30 v7.20 M259.82 427.20 v-2.70 M269.57 25.20 v5.60 M269.57 219.50 v12.80 M269.57 427.20 v-5.60 M333.71 25.20 v2.90 M333.71 222.30 v7.20 M333.71 427.20 v-2.70 M371.23 25.20 v2.90 M371.23 222.30 v7.20 M371.23 427.20 v-2.70 M397.85 25.20 v2.90 M397.85 222.30 v7.20 M397.85 427.20 v-2.70 M56.50 208.14 h3.20 M418.50 208.14 h-3.20 M56.50 195.61 h3.20 M418.50 195.61 h-3.20 M56.50 185.89 h3.20 M418.50 185.89 h-3.20 M56.50 177.95 h3.20 M418.50 177.95 h-3.20 M56.50 171.24 h3.20 M418.50 171.24 h-3.20 M56.50 165.42 h3.20 M418.50 165.42 h-3.20 M56.50 160.29 h3.20 M418.50 160.29 h-3.20 M56.50 155.70 h6.00 M418.50 155.70 h-6.00 M56.50 125.51 h3.20 M418.50 125.51 h-3.20 M56.50 107.84 h3.20 M418.50 107.84 h-3.20 M56.50 95.31 h3.20 M418.50 95.31 h-3.20 M56.50 85.59 h3.20 M418.50 85.59 h-3.20 M56.50 77.65 h3.20 M418.50 77.65 h-3.20 M56.50 70.94 h3.20 M418.50 70.94 h-3.20 M56.50 65.12 h3.20 M418.50 65.12 h-3.20 M56.50 59.99 h3.20 M418.50 59.99 h-3.20 M56.50 55.40 h6.00 M418.50 55.40 h-6.00 M56.50 422.60 h2.70 M418.50 422.60 h-2.70 M56.50 417.30 h2.70 M418.50 417.30 h-2.70 M56.50 412.00 h2.70 M418.50 412.00 h-2.70 M56.50 406.70 h4.60 M418.50 406.70 h-4.60 M56.50 401.40 h2.70 M418.50 401.40 h-2.70 M56.50 396.10 h2.70 M418.50 396.10 h-2.70 M56.50 390.80 h2.70 M418.50 390.80 h-2.70 M56.50 385.50 h2.70 M418.50 385.50 h-2.70 M56.50 380.20 h4.60 M418.50 380.20 h-4.60 M56.50 374.90 h2.70 M418.50 374.90 h-2.70 M56.50 369.60 h2.70 M418.50 369.60 h-2.70 M56.50 364.30 h2.70 M418.50 364.30 h-2.70 M56.50 359.00 h2.70 M418.50 359.00 h-2.70 M56.50 353.70 h4.60 M418.50 353.70 h-4.60 M56.50 348.40 h2.70 M418.50 348.40 h-2.70 M56.50 343.10 h2.70 M418.50 343.10 h-2.70 M56.50 337.80 h2.70 M418.50 337.80 h-2.70 M56.50 332.50 h2.70 M418.50 332.50 h-2.70 M56.50 327.20 h4.60 M418.50 327.20 h-4.60 M56.50 321.90 h2.70 M418.50 321.90 h-2.70 M56.50 316.60 h2.70 M418.50 316.60 h-2.70 M56.50 311.30 h2.70 M418.50 311.30 h-2.70 M56.50 306.00 h2.70 M418.50 306.00 h-2.70 M56.50 300.70 h4.60 M418.50 300.70 h-4.60 M56.50 295.40 h2.70 M418.50 295.40 h-2.70 M56.50 290.10 h2.70 M418.50 290.10 h-2.70 M56.50 284.80 h2.70 M418.50 284.80 h-2.70 M56.50 279.50 h2.70 M418.50 279.50 h-2.70 M56.50 274.20 h4.60 M418.50 274.20 h-4.60 M56.50 268.90 h2.70 M418.50 268.90 h-2.70 M56.50 263.60 h2.70 M418.50 263.60 h-2.70 M56.50 258.30 h2.70 M418.50 258.30 h-2.70 M56.50 253.00 h2.70 M418.50 253.00 h-2.70 M56.50 247.70 h4.60 M418.50 247.70 h-4.60 M56.50 242.40 h2.70 M418.50 242.40 h-2.70 M56.50 237.10 h2.70 M418.50 237.10 h-2.70 M56.50 231.80 h2.70 M418.50 231.80 h-2.70" stroke="#000" stroke-width="1.3" fill="none"/>
<rect x="56.50" y="25.20" width="362.00" height="200.70" fill="none" stroke="#000" stroke-width="1.5"/>
<rect x="56.50" y="225.90" width="362.00" height="201.30" fill="none" stroke="#000" stroke-width="1.5"/>
<path d="M56.50 225.90 H418.50" stroke="#000" stroke-width="1.7"/>
<g font-size="15.3">
<text x="52.6" y="58.7" text-anchor="end">1.</text>
<text x="422.0" y="58.7">1.</text>
<text x="52.6" y="159.0" text-anchor="end">0.1</text>
<text x="422.0" y="159.0">0.1</text>
<text x="53" y="410.3" text-anchor="end">0.85</text>
<text x="422.0" y="410.3">0.85</text>
<text x="53" y="383.8" text-anchor="end">0.90</text>
<text x="422.0" y="383.8">0.90</text>
<text x="53" y="357.3" text-anchor="end">0.95</text>
<text x="422.0" y="357.3">0.95</text>
<text x="53" y="330.8" text-anchor="end">1.00</text>
<text x="422.0" y="330.8">1.00</text>
<text x="53" y="304.3" text-anchor="end">1.05</text>
<text x="422.0" y="304.3">1.05</text>
<text x="53" y="277.8" text-anchor="end">1.10</text>
<text x="422.0" y="277.8">1.10</text>
<text x="53" y="251.3" text-anchor="end">1.15</text>
<text x="422.0" y="251.3">1.15</text>
<text x="269.6" y="442.6" text-anchor="middle">0.1</text>
<text x="418.8" y="442.6" text-anchor="middle">0.5</text>
</g>
<text x="237.8" y="17.4" font-size="22.7" text-anchor="middle">Scale Settings</text>
<text transform="translate(21.4 126) rotate(-90)" font-size="18" text-anchor="middle">Track EEC</text>
<text transform="translate(13.2 327) rotate(-90)" font-size="17.2" text-anchor="middle">Ratio</text>
<text transform="translate(233.0 475.6) scale(1.1 1)" font-size="22.6" font-style="italic">z</text>
<path d="M235.8 46.5 H286" stroke="#00aaaa" stroke-width="2.4"/>
<path d="M236.7 82.8 H286" stroke="#ff0000" stroke-width="2.6" stroke-dasharray="5.4 4.75"/>
<path d="M236.7 119 H283" stroke="#800080" stroke-width="2.6" stroke-dasharray="1.4 4.9 5.3 4.6"/>
<text transform="translate(293.5 52.4) scale(1.36 1)" font-size="15.8" font-style="italic">μ</text>
<text transform="translate(303.9 44.6) scale(1.26 1)" font-size="11.4">nat.</text>
<path d="M307.3 48.6 H311.7" fill="none" stroke="#000" stroke-width="0.6"/>
<path d="M310.1 48.7 L308.6 54.8 Q308.1 56.5 306.4 56.5 Q305.0 56.5 304.7 55.2" fill="none" stroke="#000" stroke-width="1.05" stroke-linecap="round"/>
<path d="M331.6 46.1 h10.9 M331.6 49.0 h10.9" stroke="#000" stroke-width="0.75" fill="none"/>
<text x="348.4" y="52.4" font-size="18.2" font-style="italic">Q</text>
<path d="M364.0 49.2 l1.6 -1.2 l3.0 7.4 l7.3 -17.1 H385.7" fill="none" stroke="#000" stroke-width="0.8" stroke-linejoin="miter"/>
<path d="M365.3 47.9 l3.1 7.4" fill="none" stroke="#000" stroke-width="1.6"/>
<text x="376.9" y="52.4" font-size="18.5" font-style="italic">z</text>
<text transform="translate(293.5 88.7) scale(1.36 1)" font-size="15.8" font-style="italic">μ</text>
<text transform="translate(303.9 80.9) scale(1.26 1)" font-size="11.4">nat.</text>
<path d="M307.3 84.9 H311.7" fill="none" stroke="#000" stroke-width="0.6"/>
<path d="M310.1 85.0 L308.6 91.1 Q308.1 92.8 306.4 92.8 Q305.0 92.8 304.7 91.5" fill="none" stroke="#000" stroke-width="1.05" stroke-linecap="round"/>
<path d="M331.6 82.4 h10.9 M331.6 85.3 h10.9" stroke="#000" stroke-width="0.75" fill="none"/>
<text x="348.4" y="88.7" font-size="18.2" font-style="italic">Q</text>
<path d="M364.2 84.3 l1.7 -1.3 l4.1 9.4 l8.5 -19.8 H405.5" fill="none" stroke="#000" stroke-width="0.8" stroke-linejoin="miter"/>
<path d="M365.6 83.0 l4.2 9.4" fill="none" stroke="#000" stroke-width="1.6"/>
<text x="381.0" y="88.7" font-size="18.5" font-style="italic">z</text>
<path d="M389.8 92.4 L396.5 74.5" stroke="#000" stroke-width="0.85"/>
<text x="397.0" y="88.7" font-size="17.6">4</text>
<text transform="translate(293.5 125.0) scale(1.36 1)" font-size="15.8" font-style="italic">μ</text>
<text transform="translate(303.9 117.2) scale(1.26 1)" font-size="11.4">nat.</text>
<path d="M307.3 121.2 H311.7" fill="none" stroke="#000" stroke-width="0.6"/>
<path d="M310.1 121.3 L308.6 127.4 Q308.1 129.1 306.4 129.1 Q305.0 129.1 304.7 127.8" fill="none" stroke="#000" stroke-width="1.05" stroke-linecap="round"/>
<path d="M331.6 118.7 h10.9 M331.6 121.6 h10.9" stroke="#000" stroke-width="0.75" fill="none"/>
<text x="348.4" y="125.0" font-size="18.2" font-style="italic">Q</text>
<path d="M364.2 120.6 l1.7 -1.3 l4.1 9.4 l8.5 -19.8 H405.5" fill="none" stroke="#000" stroke-width="0.8" stroke-linejoin="miter"/>
<path d="M365.6 119.3 l4.2 9.4" fill="none" stroke="#000" stroke-width="1.6"/>
<text x="381.0" y="125.0" font-size="18.5" font-style="italic">z</text>
<path d="M389.8 128.7 L396.5 110.8" stroke="#000" stroke-width="0.85"/>
<text x="397.0" y="125.0" font-size="17.6">8</text>
</svg></body></html>
